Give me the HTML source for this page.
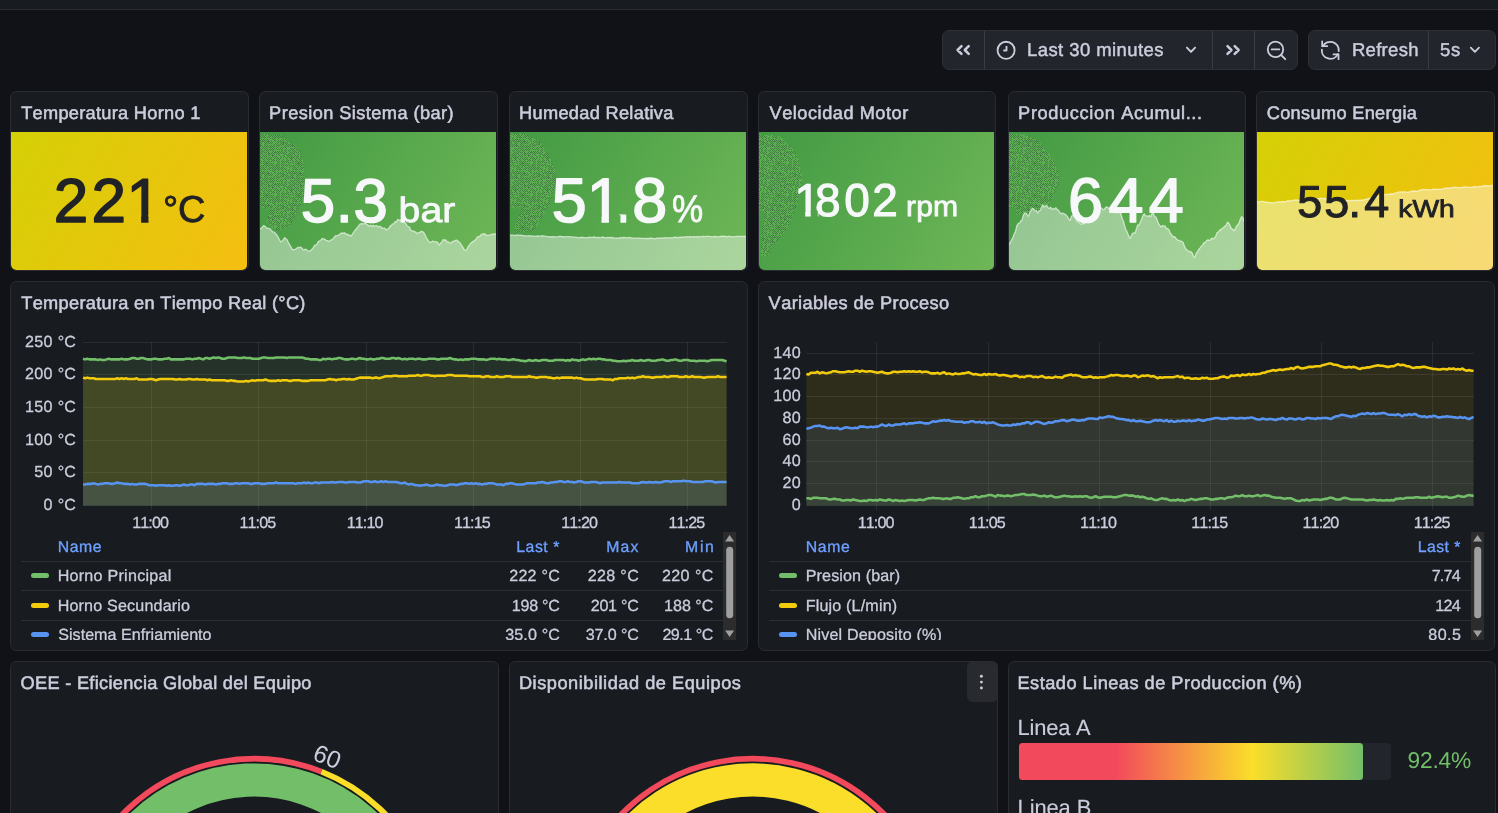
<!DOCTYPE html>
<html lang="es">
<head>
<meta charset="utf-8">
<title>Dashboard Planta - Grafana</title>
<style>
*{box-sizing:border-box;margin:0;padding:0}
html,body{width:1498px;height:813px;overflow:hidden;background:#111217}
body{position:relative;font-family:"Liberation Sans",sans-serif;color:rgb(204,204,220);font-kerning:none;text-rendering:geometricPrecision}
.topbar{position:absolute;left:0;top:0;width:1498px;height:10px;background:#181b1f;border-bottom:1px solid #2a2c31}
.t{position:absolute;white-space:nowrap;line-height:1}
.grp{position:absolute;top:30px;height:40px;background:#22252b;border:1px solid #2e3036;border-radius:7px;overflow:hidden}
.grp i{position:absolute;top:0;width:1px;height:38px;background:#3a3d41}
.grp svg{position:absolute;left:0;top:0}
.panel{position:absolute;background:#181b1f;border:1px solid #2a2c32;border-radius:6.5px;overflow:hidden}
.panel h2{font-weight:normal;font-size:inherit}
.panel svg{position:absolute;left:0;top:0;display:block}
svg text{font-family:"Liberation Sans",sans-serif;font-kerning:none;text-rendering:geometricPrecision}
.menu{position:absolute;background:#282a2f;border-radius:6px}
.menu svg{display:block}
</style>
</head>
<body>
<header class="topbar"></header>
<nav class="grp" style="left:942px;width:356px"><i style="left:41px"></i><i style="left:269px"></i><i style="left:311px"></i><svg width="354" height="38" viewBox="943 31 354 38" fill="none" stroke="rgb(204,204,220)" stroke-width="1.9" stroke-linecap="round" stroke-linejoin="round"><path d="M961.5 46.1 L957.6 50 L961.5 53.9 M968.7 46.1 L964.8 50 L968.7 53.9" stroke-width="2.5"/><circle cx="1006.1" cy="50.3" r="8.55" stroke-width="1.8"/><path d="M1006.5 45.9 V50.5 H1003.3" stroke-width="1.9" stroke-linecap="butt"/><path d="M1186.9 47.6 L1191 51.9 L1195.1 47.6" stroke-width="1.9"/><path d="M1227.5 46.1 L1231.4 50 L1227.5 53.9 M1234.7 46.1 L1238.6 50 L1234.7 53.9" stroke-width="2.5"/><circle cx="1275.5" cy="49.4" r="7.7" stroke-width="1.8"/><path d="M1281.1 55 L1285.3 59.2 M1271.7 49.4 H1279.3" stroke-width="1.8"/></svg><span class="t" style="left:83.98px;top:10px;font-size:18.5px;letter-spacing:0.43px;-webkit-text-stroke:0.45px currentColor;">Last 30 minutes</span></nav><nav class="grp" style="left:1308px;width:188px"><i style="left:119px"></i><svg width="186" height="38" viewBox="1309 31 186 38" fill="none" stroke="rgb(204,204,220)" stroke-width="1.8" stroke-linecap="round" stroke-linejoin="round"><path d="M1322.79 46.31 A8.5 8.5 0 0 1 1338.75 51.19"/><path d="M1337.87 54.16 A8.5 8.5 0 0 1 1321.82 49.71"/><path d="M1322.2 41.4 V46.2 H1327.2"/><path d="M1338.5 59.2 V54.4 H1333.5"/><path d="M1470.8 47.6 L1474.9 51.9 L1479 47.6" stroke-width="1.8"/></svg><span class="t" style="left:42.88px;top:10px;font-size:18.5px;letter-spacing:0.31px;-webkit-text-stroke:0.45px currentColor;">Refresh</span><span class="t" style="left:130.96px;top:10px;font-size:18.5px;letter-spacing:0.77px;-webkit-text-stroke:0.45px currentColor;">5s</span></nav><section class="panel" style="left:10px;top:91px;width:239px;height:180px"><h2><span class="t" style="left:10.19px;top:12px;font-size:18.2px;letter-spacing:0.29px;-webkit-text-stroke:0.55px currentColor;">Temperatura Horno 1</span></h2><div style="position:absolute;left:0px;top:40px;width:236.2px;height:138px;background:linear-gradient(120deg,rgb(213,208,6),rgb(245,190,17));border-radius:0 0 5px 5px;overflow:hidden"><svg width="236.2" height="138" viewBox="11 132 236.2 138"><clipPath id="c1"><path clip-rule="evenodd" d="M-6.02 147.57 H210.22 V253.01 H-6.02 Z M128.1 215.05 V224.49 H141.16 V215.05 Z M148.41 215.05 V224.49 H160.23 V215.05 Z"/></clipPath><text x="53.65 91.55 126.49" y="222" font-size="62.02" fill="#202226" stroke="#202226" stroke-width="1.49" stroke-linejoin="round" clip-path="url(#c1)">221</text><text transform="translate(165.2 222) scale(1.0109 1)" x="-2.23" y="0" font-size="37.47" fill="#202226" stroke="#202226" stroke-width="0.8">°C</text></svg></div></section><section class="panel" style="left:259px;top:91px;width:239px;height:180px"><h2><span class="t" style="left:9.11px;top:12px;font-size:18.2px;letter-spacing:0.43px;-webkit-text-stroke:0.55px currentColor;">Presion Sistema (bar)</span></h2><div style="position:absolute;left:0px;top:40px;width:236.2px;height:138px;background:linear-gradient(120deg,rgb(66,154,67),rgb(111,183,87));border-radius:0 0 5px 5px;overflow:hidden"><svg width="236.2" height="138" viewBox="260 132 236.2 138"><defs><pattern id="dth" width="32" height="32" patternUnits="userSpaceOnUse"><rect width="32" height="32" fill="#5bae4f"/><path d="M0 0h1v1h-1zM2 0h1v1h-1zM4 0h1v1h-1zM8 0h1v1h-1zM12 0h1v1h-1zM16 0h1v1h-1zM18 0h1v1h-1zM20 0h1v1h-1zM22 0h1v1h-1zM26 0h1v1h-1zM30 0h1v1h-1zM5 1h1v1h-1zM7 1h1v1h-1zM9 1h1v1h-1zM11 1h1v1h-1zM13 1h1v1h-1zM15 1h1v1h-1zM17 1h1v1h-1zM21 1h1v1h-1zM23 1h1v1h-1zM25 1h1v1h-1zM27 1h1v1h-1zM29 1h1v1h-1zM31 1h1v1h-1zM0 2h1v1h-1zM2 2h1v1h-1zM4 2h1v1h-1zM8 2h1v1h-1zM10 2h1v1h-1zM12 2h1v1h-1zM22 2h1v1h-1zM26 2h1v1h-1zM28 2h1v1h-1zM30 2h1v1h-1zM1 3h1v1h-1zM5 3h1v1h-1zM7 3h1v1h-1zM9 3h3v1h-3zM13 3h1v1h-1zM15 3h1v1h-1zM17 3h1v1h-1zM21 3h1v1h-1zM23 3h1v1h-1zM25 3h1v1h-1zM27 3h1v1h-1zM0 4h1v1h-1zM8 4h1v1h-1zM10 4h1v1h-1zM12 4h1v1h-1zM14 4h1v1h-1zM16 4h1v1h-1zM20 4h1v1h-1zM22 4h1v1h-1zM26 4h1v1h-1zM28 4h1v1h-1zM30 4h1v1h-1zM1 5h1v1h-1zM3 5h1v1h-1zM5 5h1v1h-1zM7 5h1v1h-1zM9 5h1v1h-1zM11 5h1v1h-1zM13 5h1v1h-1zM15 5h1v1h-1zM17 5h1v1h-1zM20 5h2v1h-2zM23 5h1v1h-1zM25 5h1v1h-1zM27 5h1v1h-1zM29 5h1v1h-1zM31 5h1v1h-1zM2 6h1v1h-1zM4 6h1v1h-1zM6 6h1v1h-1zM10 6h1v1h-1zM12 6h1v1h-1zM16 6h1v1h-1zM18 6h1v1h-1zM20 6h1v1h-1zM22 6h1v1h-1zM26 6h1v1h-1zM30 6h1v1h-1zM1 7h1v1h-1zM5 7h1v1h-1zM7 7h1v1h-1zM9 7h1v1h-1zM13 7h1v1h-1zM15 7h1v1h-1zM17 7h1v1h-1zM19 7h1v1h-1zM21 7h1v1h-1zM23 7h1v1h-1zM25 7h1v1h-1zM27 7h1v1h-1zM4 8h1v1h-1zM6 8h1v1h-1zM8 8h1v1h-1zM12 8h1v1h-1zM14 8h1v1h-1zM16 8h1v1h-1zM18 8h1v1h-1zM20 8h1v1h-1zM22 8h1v1h-1zM24 8h1v1h-1zM26 8h1v1h-1zM28 8h1v1h-1zM30 8h1v1h-1zM1 9h1v1h-1zM5 9h1v1h-1zM7 9h1v1h-1zM9 9h1v1h-1zM11 9h1v1h-1zM13 9h1v1h-1zM17 9h1v1h-1zM19 9h1v1h-1zM21 9h1v1h-1zM23 9h1v1h-1zM25 9h1v1h-1zM27 9h1v1h-1zM29 9h1v1h-1zM0 10h1v1h-1zM4 10h1v1h-1zM8 10h1v1h-1zM14 10h1v1h-1zM16 10h1v1h-1zM18 10h1v1h-1zM22 10h1v1h-1zM26 10h1v1h-1zM30 10h1v1h-1zM1 11h1v1h-1zM3 11h1v1h-1zM5 11h1v1h-1zM7 11h1v1h-1zM11 11h1v1h-1zM17 11h1v1h-1zM19 11h1v1h-1zM27 11h1v1h-1zM29 11h1v1h-1zM0 12h1v1h-1zM2 12h1v1h-1zM4 12h1v1h-1zM6 12h1v1h-1zM8 12h1v1h-1zM10 12h1v1h-1zM12 12h1v1h-1zM18 12h1v1h-1zM22 12h1v1h-1zM24 12h1v1h-1zM26 12h1v1h-1zM30 12h1v1h-1zM1 13h1v1h-1zM3 13h1v1h-1zM5 13h3v1h-3zM9 13h1v1h-1zM11 13h3v1h-3zM15 13h1v1h-1zM19 13h1v1h-1zM21 13h1v1h-1zM23 13h1v1h-1zM25 13h1v1h-1zM27 13h1v1h-1zM31 13h1v1h-1zM2 14h1v1h-1zM4 14h1v1h-1zM8 14h1v1h-1zM10 14h1v1h-1zM12 14h1v1h-1zM14 14h1v1h-1zM16 14h1v1h-1zM22 14h1v1h-1zM24 14h1v1h-1zM26 14h3v1h-3zM30 14h1v1h-1zM3 15h1v1h-1zM5 15h1v1h-1zM9 15h1v1h-1zM11 15h1v1h-1zM13 15h1v1h-1zM15 15h1v1h-1zM19 15h1v1h-1zM21 15h1v1h-1zM25 15h1v1h-1zM27 15h1v1h-1zM29 15h1v1h-1zM31 15h1v1h-1zM0 16h1v1h-1zM2 16h1v1h-1zM4 16h1v1h-1zM8 16h1v1h-1zM10 16h1v1h-1zM18 16h1v1h-1zM20 16h1v1h-1zM22 16h1v1h-1zM24 16h1v1h-1zM26 16h2v1h-2zM30 16h1v1h-1zM1 17h1v1h-1zM3 17h3v1h-3zM9 17h1v1h-1zM11 17h1v1h-1zM13 17h1v1h-1zM15 17h1v1h-1zM17 17h1v1h-1zM21 17h1v1h-1zM23 17h1v1h-1zM25 17h1v1h-1zM29 17h1v1h-1zM31 17h1v1h-1zM0 18h1v1h-1zM2 18h1v1h-1zM4 18h1v1h-1zM6 18h1v1h-1zM8 18h1v1h-1zM10 18h1v1h-1zM12 18h1v1h-1zM14 18h1v1h-1zM16 18h1v1h-1zM18 18h1v1h-1zM20 18h1v1h-1zM22 18h1v1h-1zM28 18h1v1h-1zM30 18h1v1h-1zM7 19h1v1h-1zM9 19h1v1h-1zM11 19h1v1h-1zM13 19h1v1h-1zM15 19h1v1h-1zM17 19h1v1h-1zM21 19h1v1h-1zM25 19h1v1h-1zM27 19h1v1h-1zM29 19h1v1h-1zM2 20h1v1h-1zM4 20h1v1h-1zM6 20h1v1h-1zM8 20h1v1h-1zM10 20h1v1h-1zM14 20h1v1h-1zM16 20h1v1h-1zM18 20h1v1h-1zM20 20h1v1h-1zM24 20h1v1h-1zM26 20h1v1h-1zM30 20h1v1h-1zM3 21h1v1h-1zM5 21h1v1h-1zM9 21h1v1h-1zM11 21h1v1h-1zM13 21h1v1h-1zM15 21h1v1h-1zM17 21h1v1h-1zM21 21h1v1h-1zM23 21h1v1h-1zM25 21h1v1h-1zM29 21h1v1h-1zM0 22h1v1h-1zM2 22h1v1h-1zM4 22h1v1h-1zM6 22h1v1h-1zM8 22h1v1h-1zM10 22h1v1h-1zM12 22h1v1h-1zM14 22h1v1h-1zM16 22h1v1h-1zM26 22h1v1h-1zM28 22h1v1h-1zM30 22h1v1h-1zM1 23h1v1h-1zM5 23h1v1h-1zM7 23h1v1h-1zM11 23h1v1h-1zM17 23h1v1h-1zM19 23h1v1h-1zM21 23h1v1h-1zM23 23h1v1h-1zM25 23h1v1h-1zM29 23h1v1h-1zM2 24h1v1h-1zM4 24h1v1h-1zM6 24h1v1h-1zM8 24h1v1h-1zM10 24h1v1h-1zM12 24h1v1h-1zM16 24h1v1h-1zM18 24h3v1h-3zM22 24h1v1h-1zM24 24h1v1h-1zM26 24h1v1h-1zM28 24h1v1h-1zM30 24h1v1h-1zM1 25h1v1h-1zM3 25h1v1h-1zM5 25h1v1h-1zM9 25h1v1h-1zM12 25h2v1h-2zM15 25h1v1h-1zM17 25h1v1h-1zM21 25h1v1h-1zM23 25h1v1h-1zM25 25h1v1h-1zM27 25h1v1h-1zM29 25h1v1h-1zM0 26h1v1h-1zM2 26h1v1h-1zM4 26h1v1h-1zM6 26h1v1h-1zM10 26h1v1h-1zM12 26h1v1h-1zM14 26h1v1h-1zM16 26h1v1h-1zM18 26h1v1h-1zM20 26h1v1h-1zM22 26h1v1h-1zM28 26h1v1h-1zM30 26h1v1h-1zM1 27h1v1h-1zM3 27h1v1h-1zM7 27h1v1h-1zM9 27h1v1h-1zM13 27h1v1h-1zM16 27h2v1h-2zM23 27h1v1h-1zM27 27h1v1h-1zM31 27h1v1h-1zM0 28h1v1h-1zM2 28h1v1h-1zM4 28h1v1h-1zM6 28h1v1h-1zM8 28h1v1h-1zM10 28h1v1h-1zM12 28h1v1h-1zM16 28h1v1h-1zM18 28h1v1h-1zM20 28h1v1h-1zM24 28h1v1h-1zM28 28h1v1h-1zM1 29h1v1h-1zM3 29h1v1h-1zM5 29h1v1h-1zM9 29h1v1h-1zM13 29h1v1h-1zM15 29h1v1h-1zM19 29h1v1h-1zM21 29h1v1h-1zM25 29h1v1h-1zM27 29h1v1h-1zM29 29h1v1h-1zM31 29h1v1h-1zM2 30h3v1h-3zM6 30h1v1h-1zM8 30h1v1h-1zM10 30h1v1h-1zM12 30h1v1h-1zM14 30h1v1h-1zM18 30h1v1h-1zM20 30h1v1h-1zM22 30h1v1h-1zM24 30h1v1h-1zM30 30h1v1h-1zM3 31h1v1h-1zM7 31h1v1h-1zM11 31h1v1h-1zM13 31h1v1h-1zM15 31h1v1h-1zM17 31h1v1h-1zM21 31h1v1h-1zM23 31h1v1h-1zM27 31h1v1h-1zM31 31h1v1h-1z" fill="#477d46"/></pattern><clipPath id="kd2"><path d="M260 227.28 L261.3 227.71 L262.6 225.72 L263.9 224.5 L265.2 225.52 L266.5 226.66 L267.8 227.44 L269.1 227.31 L270.4 228.2 L271.7 229.6 L273 230.93 L274.3 231.23 L275.6 232.59 L276.9 234.01 L278.2 236.28 L279.5 238.9 L280.8 240.98 L282.1 240.09 L283.4 238.49 L284.7 236.72 L286 237.69 L287.3 239.16 L288.6 241.93 L289.9 244.09 L291.2 246.38 L292.5 248.76 L293.8 248.55 L295.1 248.46 L296.4 247.57 L297.7 246.48 L299 246.49 L300.3 246 L301.6 246.74 L302.9 248.5 L304.2 248.85 L305.5 247.95 L306.8 249.19 L308.1 249.78 L309.4 250.05 L310.7 249.53 L312 248.1 L313.3 246.76 L314.6 244.36 L315.9 243.89 L317.2 243.09 L318.5 240.37 L319.8 239.73 L321.1 238.82 L322.4 237.48 L323.7 237.83 L325 238.14 L326.3 239.57 L327.6 239.6 L328.9 240.61 L330.2 239.17 L331.5 238.8 L332.8 238.16 L334.1 236.27 L335.4 234.94 L336.7 234.7 L338 234.44 L339.3 233.62 L340.6 232.41 L341.9 231.83 L343.2 232.3 L344.5 231.63 L345.8 233.29 L347.1 232.9 L348.4 234.36 L349.7 233.95 L351 234.99 L352.3 233.41 L353.6 231.33 L354.9 229.46 L356.2 228.01 L357.5 226.34 L358.8 224.57 L360.1 223.04 L361.4 222.5 L362.7 222.85 L364 222.76 L365.3 221.86 L366.6 223.29 L367.9 224.09 L369.2 225.18 L370.5 224.29 L371.8 225.26 L373.1 224.36 L374.4 225.33 L375.7 224.95 L377 224.68 L378.3 226.15 L379.6 225.24 L380.9 225.76 L382.2 227.37 L383.5 227.17 L384.8 227.22 L386.1 229.12 L387.4 228.16 L388.7 227.68 L390 225.36 L391.3 224.37 L392.6 222.93 L393.9 222.78 L395.2 220.62 L396.5 220.89 L397.8 218.31 L399.1 219.53 L400.4 218.94 L401.7 219.37 L403 221.19 L404.3 220.98 L405.6 221.99 L406.9 224.38 L408.2 225.65 L409.5 226.17 L410.8 229.32 L412.1 229.77 L413.4 230.09 L414.7 230.53 L416 231.53 L417.3 232.52 L418.6 231.65 L419.9 231.35 L421.2 230.34 L422.5 230.65 L423.8 231.51 L425.1 233.99 L426.4 236.68 L427.7 238.73 L429 240.99 L430.3 241.26 L431.6 240.8 L432.9 240.02 L434.2 240.69 L435.5 240.83 L436.8 240.85 L438.1 242.03 L439.4 244.12 L440.7 242.15 L442 240.66 L443.3 238.52 L444.6 239.06 L445.9 238.93 L447.2 241.06 L448.5 240.93 L449.8 241.94 L451.1 241.92 L452.4 240.39 L453.7 240.59 L455 239.53 L456.3 238.98 L457.6 239.75 L458.9 240.99 L460.2 242.04 L461.5 244.43 L462.8 246.03 L464.1 248.6 L465.4 249.44 L466.7 248.72 L468 245.94 L469.3 244.26 L470.6 242.26 L471.9 241.37 L473.2 240.39 L474.5 239.7 L475.8 238.55 L477.1 236.25 L478.4 235.56 L479.7 235.36 L481 233.86 L482.3 232.91 L483.6 233.1 L484.9 232.63 L486.2 234.29 L487.5 234.3 L488.8 234.14 L490.1 234.19 L491.4 233.62 L492.7 233.01 L494 233.14 L495.3 232.84 L496.2 233.32 L496.2 132 L260 132 Z"/></clipPath></defs><path d="M259.89 133.79 L281 135.41 L291.83 142.86 L298.6 148.94 L302.65 159.77 L304.01 170.6 L304.28 194.95 L301.3 203.07 L297.24 211.19 L290.48 224.72 L278.3 230.81 L271.53 227.43 L266.12 222.02 L268.83 213.9 L271.53 205.78 L266.12 209.84 L259.89 205.78 Z" fill="url(#dth)" shape-rendering="crispEdges" clip-path="url(#kd2)"/><path d="M260 228.28 L261.3 228.71 L262.6 226.72 L263.9 225.5 L265.2 226.52 L266.5 227.66 L267.8 228.44 L269.1 228.31 L270.4 229.2 L271.7 230.6 L273 231.93 L274.3 232.23 L275.6 233.59 L276.9 235.01 L278.2 237.28 L279.5 239.9 L280.8 241.98 L282.1 241.09 L283.4 239.49 L284.7 237.72 L286 238.69 L287.3 240.16 L288.6 242.93 L289.9 245.09 L291.2 247.38 L292.5 249.76 L293.8 249.55 L295.1 249.46 L296.4 248.57 L297.7 247.48 L299 247.49 L300.3 247 L301.6 247.74 L302.9 249.5 L304.2 249.85 L305.5 248.95 L306.8 250.19 L308.1 250.78 L309.4 251.05 L310.7 250.53 L312 249.1 L313.3 247.76 L314.6 245.36 L315.9 244.89 L317.2 244.09 L318.5 241.37 L319.8 240.73 L321.1 239.82 L322.4 238.48 L323.7 238.83 L325 239.14 L326.3 240.57 L327.6 240.6 L328.9 241.61 L330.2 240.17 L331.5 239.8 L332.8 239.16 L334.1 237.27 L335.4 235.94 L336.7 235.7 L338 235.44 L339.3 234.62 L340.6 233.41 L341.9 232.83 L343.2 233.3 L344.5 232.63 L345.8 234.29 L347.1 233.9 L348.4 235.36 L349.7 234.95 L351 235.99 L352.3 234.41 L353.6 232.33 L354.9 230.46 L356.2 229.01 L357.5 227.34 L358.8 225.57 L360.1 224.04 L361.4 223.5 L362.7 223.85 L364 223.76 L365.3 222.86 L366.6 224.29 L367.9 225.09 L369.2 226.18 L370.5 225.29 L371.8 226.26 L373.1 225.36 L374.4 226.33 L375.7 225.95 L377 225.68 L378.3 227.15 L379.6 226.24 L380.9 226.76 L382.2 228.37 L383.5 228.17 L384.8 228.22 L386.1 230.12 L387.4 229.16 L388.7 228.68 L390 226.36 L391.3 225.37 L392.6 223.93 L393.9 223.78 L395.2 221.62 L396.5 221.89 L397.8 219.31 L399.1 220.53 L400.4 219.94 L401.7 220.37 L403 222.19 L404.3 221.98 L405.6 222.99 L406.9 225.38 L408.2 226.65 L409.5 227.17 L410.8 230.32 L412.1 230.77 L413.4 231.09 L414.7 231.53 L416 232.53 L417.3 233.52 L418.6 232.65 L419.9 232.35 L421.2 231.34 L422.5 231.65 L423.8 232.51 L425.1 234.99 L426.4 237.68 L427.7 239.73 L429 241.99 L430.3 242.26 L431.6 241.8 L432.9 241.02 L434.2 241.69 L435.5 241.83 L436.8 241.85 L438.1 243.03 L439.4 245.12 L440.7 243.15 L442 241.66 L443.3 239.52 L444.6 240.06 L445.9 239.93 L447.2 242.06 L448.5 241.93 L449.8 242.94 L451.1 242.92 L452.4 241.39 L453.7 241.59 L455 240.53 L456.3 239.98 L457.6 240.75 L458.9 241.99 L460.2 243.04 L461.5 245.43 L462.8 247.03 L464.1 249.6 L465.4 250.44 L466.7 249.72 L468 246.94 L469.3 245.26 L470.6 243.26 L471.9 242.37 L473.2 241.39 L474.5 240.7 L475.8 239.55 L477.1 237.25 L478.4 236.56 L479.7 236.36 L481 234.86 L482.3 233.91 L483.6 234.1 L484.9 233.63 L486.2 235.29 L487.5 235.3 L488.8 235.14 L490.1 235.19 L491.4 234.62 L492.7 234.01 L494 234.14 L495.3 233.84 L496.2 234.32 L496.2 271 L260 271 Z" fill="rgba(255,255,255,0.42)"/><path d="M260 228.28 L261.3 228.71 L262.6 226.72 L263.9 225.5 L265.2 226.52 L266.5 227.66 L267.8 228.44 L269.1 228.31 L270.4 229.2 L271.7 230.6 L273 231.93 L274.3 232.23 L275.6 233.59 L276.9 235.01 L278.2 237.28 L279.5 239.9 L280.8 241.98 L282.1 241.09 L283.4 239.49 L284.7 237.72 L286 238.69 L287.3 240.16 L288.6 242.93 L289.9 245.09 L291.2 247.38 L292.5 249.76 L293.8 249.55 L295.1 249.46 L296.4 248.57 L297.7 247.48 L299 247.49 L300.3 247 L301.6 247.74 L302.9 249.5 L304.2 249.85 L305.5 248.95 L306.8 250.19 L308.1 250.78 L309.4 251.05 L310.7 250.53 L312 249.1 L313.3 247.76 L314.6 245.36 L315.9 244.89 L317.2 244.09 L318.5 241.37 L319.8 240.73 L321.1 239.82 L322.4 238.48 L323.7 238.83 L325 239.14 L326.3 240.57 L327.6 240.6 L328.9 241.61 L330.2 240.17 L331.5 239.8 L332.8 239.16 L334.1 237.27 L335.4 235.94 L336.7 235.7 L338 235.44 L339.3 234.62 L340.6 233.41 L341.9 232.83 L343.2 233.3 L344.5 232.63 L345.8 234.29 L347.1 233.9 L348.4 235.36 L349.7 234.95 L351 235.99 L352.3 234.41 L353.6 232.33 L354.9 230.46 L356.2 229.01 L357.5 227.34 L358.8 225.57 L360.1 224.04 L361.4 223.5 L362.7 223.85 L364 223.76 L365.3 222.86 L366.6 224.29 L367.9 225.09 L369.2 226.18 L370.5 225.29 L371.8 226.26 L373.1 225.36 L374.4 226.33 L375.7 225.95 L377 225.68 L378.3 227.15 L379.6 226.24 L380.9 226.76 L382.2 228.37 L383.5 228.17 L384.8 228.22 L386.1 230.12 L387.4 229.16 L388.7 228.68 L390 226.36 L391.3 225.37 L392.6 223.93 L393.9 223.78 L395.2 221.62 L396.5 221.89 L397.8 219.31 L399.1 220.53 L400.4 219.94 L401.7 220.37 L403 222.19 L404.3 221.98 L405.6 222.99 L406.9 225.38 L408.2 226.65 L409.5 227.17 L410.8 230.32 L412.1 230.77 L413.4 231.09 L414.7 231.53 L416 232.53 L417.3 233.52 L418.6 232.65 L419.9 232.35 L421.2 231.34 L422.5 231.65 L423.8 232.51 L425.1 234.99 L426.4 237.68 L427.7 239.73 L429 241.99 L430.3 242.26 L431.6 241.8 L432.9 241.02 L434.2 241.69 L435.5 241.83 L436.8 241.85 L438.1 243.03 L439.4 245.12 L440.7 243.15 L442 241.66 L443.3 239.52 L444.6 240.06 L445.9 239.93 L447.2 242.06 L448.5 241.93 L449.8 242.94 L451.1 242.92 L452.4 241.39 L453.7 241.59 L455 240.53 L456.3 239.98 L457.6 240.75 L458.9 241.99 L460.2 243.04 L461.5 245.43 L462.8 247.03 L464.1 249.6 L465.4 250.44 L466.7 249.72 L468 246.94 L469.3 245.26 L470.6 243.26 L471.9 242.37 L473.2 241.39 L474.5 240.7 L475.8 239.55 L477.1 237.25 L478.4 236.56 L479.7 236.36 L481 234.86 L482.3 233.91 L483.6 234.1 L484.9 233.63 L486.2 235.29 L487.5 235.3 L488.8 235.14 L490.1 235.19 L491.4 234.62 L492.7 234.01 L494 234.14 L495.3 233.84 L496.2 234.32" fill="none" stroke="rgba(255,255,255,0.6)" stroke-width="1.3" stroke-linejoin="round"/><text x="300.89 335.87 353.61" y="222" font-size="61.75" fill="#f7f8fa" stroke="#f7f8fa" stroke-width="1.48" stroke-linejoin="round">5.3</text><text transform="translate(401.1 222) scale(1.1161 1)" x="-2.26" y="0" font-size="35.14" fill="#f7f8fa" stroke="#f7f8fa" stroke-width="0.8">bar</text></svg></div></section><section class="panel" style="left:509px;top:91px;width:239px;height:180px"><h2><span class="t" style="left:9.11px;top:12px;font-size:18.2px;letter-spacing:0.31px;-webkit-text-stroke:0.55px currentColor;">Humedad Relativa</span></h2><div style="position:absolute;left:0px;top:40px;width:236.2px;height:138px;background:linear-gradient(120deg,rgb(66,154,67),rgb(111,183,87));border-radius:0 0 5px 5px;overflow:hidden"><svg width="236.2" height="138" viewBox="510 132 236.2 138"><defs><clipPath id="kd3"><path d="M510 234.02 L511.3 234.16 L512.6 234.14 L513.9 234.3 L515.2 234.43 L516.5 234.13 L517.8 233.93 L519.1 234.4 L520.4 234.29 L521.7 234.22 L523 234.73 L524.3 234.68 L525.6 234.92 L526.9 234.82 L528.2 234.9 L529.5 234.61 L530.8 234.8 L532.1 235.08 L533.4 235.03 L534.7 235.16 L536 235.21 L537.3 234.83 L538.6 235.1 L539.9 235.16 L541.2 235 L542.5 234.74 L543.8 235.18 L545.1 235.18 L546.4 235.37 L547.7 235.61 L549 235.65 L550.3 235.84 L551.6 235.59 L552.9 235.75 L554.2 235.6 L555.5 235.88 L556.8 236.01 L558.1 235.56 L559.4 235.33 L560.7 235.27 L562 235.76 L563.3 235.7 L564.6 235.8 L565.9 235.65 L567.2 235.71 L568.5 235.67 L569.8 235.63 L571.1 235.78 L572.4 235.89 L573.7 236.18 L575 236.21 L576.3 236.42 L577.6 236.5 L578.9 236.65 L580.2 236.53 L581.5 236.11 L582.8 236.36 L584.1 236.59 L585.4 236.7 L586.7 236.54 L588 236.55 L589.3 236.22 L590.6 236.47 L591.9 236.44 L593.2 236.24 L594.5 235.97 L595.8 236.37 L597.1 236.72 L598.4 236.31 L599.7 236.57 L601 236.46 L602.3 236.23 L603.6 236.2 L604.9 236.52 L606.2 236.8 L607.5 236.4 L608.8 236.57 L610.1 236.28 L611.4 236.59 L612.7 236.51 L614 236.86 L615.3 237.15 L616.6 237 L617.9 237.27 L619.2 236.95 L620.5 236.61 L621.8 236.78 L623.1 236.49 L624.4 236.44 L625.7 236.57 L627 236.8 L628.3 236.63 L629.6 236.45 L630.9 236.93 L632.2 236.84 L633.5 237.25 L634.8 237.46 L636.1 237.23 L637.4 237.16 L638.7 237.17 L640 237.27 L641.3 237.31 L642.6 237.31 L643.9 237.37 L645.2 237.63 L646.5 237.5 L647.8 237.37 L649.1 237.51 L650.4 237.26 L651.7 237.17 L653 237.6 L654.3 237.54 L655.6 237.54 L656.9 237.11 L658.2 237.09 L659.5 237.18 L660.8 236.81 L662.1 236.98 L663.4 237.07 L664.7 236.7 L666 236.85 L667.3 236.8 L668.6 236.9 L669.9 236.71 L671.2 236.81 L672.5 236.87 L673.8 236.38 L675.1 236.09 L676.4 236.33 L677.7 236.64 L679 236.31 L680.3 236.23 L681.6 236.25 L682.9 236.05 L684.2 235.93 L685.5 235.8 L686.8 235.76 L688.1 235.89 L689.4 235.76 L690.7 235.73 L692 235.98 L693.3 235.6 L694.6 235.74 L695.9 235.94 L697.2 235.75 L698.5 235.57 L699.8 235.86 L701.1 235.63 L702.4 235.44 L703.7 235.5 L705 235.71 L706.3 235.41 L707.6 235.38 L708.9 235.36 L710.2 235.69 L711.5 235.6 L712.8 235.84 L714.1 235.49 L715.4 235.39 L716.7 235.54 L718 235.79 L719.3 235.62 L720.6 235.36 L721.9 235.12 L723.2 235.28 L724.5 235.15 L725.8 235.5 L727.1 235.74 L728.4 235.43 L729.7 235.31 L731 235.62 L732.3 235.69 L733.6 235.85 L734.9 235.63 L736.2 235.35 L737.5 235.3 L738.8 235.62 L740.1 235.46 L741.4 235.41 L742.7 235.44 L744 235.46 L745.3 235.47 L746.2 235.63 L746.2 132 L510 132 Z"/></clipPath></defs><path d="M509.89 133.79 L525.59 134.06 L539.12 140.83 L548.6 154.36 L555.36 170.6 L555.36 184.13 L549.95 203.07 L541.83 217.96 L533.71 231.49 L516.12 232.84 L514.77 227.43 L518.83 216.6 L522.88 205.78 L513.41 208.48 L509.89 205.78 Z" fill="url(#dth)" shape-rendering="crispEdges" clip-path="url(#kd3)"/><path d="M510 235.02 L511.3 235.16 L512.6 235.14 L513.9 235.3 L515.2 235.43 L516.5 235.13 L517.8 234.93 L519.1 235.4 L520.4 235.29 L521.7 235.22 L523 235.73 L524.3 235.68 L525.6 235.92 L526.9 235.82 L528.2 235.9 L529.5 235.61 L530.8 235.8 L532.1 236.08 L533.4 236.03 L534.7 236.16 L536 236.21 L537.3 235.83 L538.6 236.1 L539.9 236.16 L541.2 236 L542.5 235.74 L543.8 236.18 L545.1 236.18 L546.4 236.37 L547.7 236.61 L549 236.65 L550.3 236.84 L551.6 236.59 L552.9 236.75 L554.2 236.6 L555.5 236.88 L556.8 237.01 L558.1 236.56 L559.4 236.33 L560.7 236.27 L562 236.76 L563.3 236.7 L564.6 236.8 L565.9 236.65 L567.2 236.71 L568.5 236.67 L569.8 236.63 L571.1 236.78 L572.4 236.89 L573.7 237.18 L575 237.21 L576.3 237.42 L577.6 237.5 L578.9 237.65 L580.2 237.53 L581.5 237.11 L582.8 237.36 L584.1 237.59 L585.4 237.7 L586.7 237.54 L588 237.55 L589.3 237.22 L590.6 237.47 L591.9 237.44 L593.2 237.24 L594.5 236.97 L595.8 237.37 L597.1 237.72 L598.4 237.31 L599.7 237.57 L601 237.46 L602.3 237.23 L603.6 237.2 L604.9 237.52 L606.2 237.8 L607.5 237.4 L608.8 237.57 L610.1 237.28 L611.4 237.59 L612.7 237.51 L614 237.86 L615.3 238.15 L616.6 238 L617.9 238.27 L619.2 237.95 L620.5 237.61 L621.8 237.78 L623.1 237.49 L624.4 237.44 L625.7 237.57 L627 237.8 L628.3 237.63 L629.6 237.45 L630.9 237.93 L632.2 237.84 L633.5 238.25 L634.8 238.46 L636.1 238.23 L637.4 238.16 L638.7 238.17 L640 238.27 L641.3 238.31 L642.6 238.31 L643.9 238.37 L645.2 238.63 L646.5 238.5 L647.8 238.37 L649.1 238.51 L650.4 238.26 L651.7 238.17 L653 238.6 L654.3 238.54 L655.6 238.54 L656.9 238.11 L658.2 238.09 L659.5 238.18 L660.8 237.81 L662.1 237.98 L663.4 238.07 L664.7 237.7 L666 237.85 L667.3 237.8 L668.6 237.9 L669.9 237.71 L671.2 237.81 L672.5 237.87 L673.8 237.38 L675.1 237.09 L676.4 237.33 L677.7 237.64 L679 237.31 L680.3 237.23 L681.6 237.25 L682.9 237.05 L684.2 236.93 L685.5 236.8 L686.8 236.76 L688.1 236.89 L689.4 236.76 L690.7 236.73 L692 236.98 L693.3 236.6 L694.6 236.74 L695.9 236.94 L697.2 236.75 L698.5 236.57 L699.8 236.86 L701.1 236.63 L702.4 236.44 L703.7 236.5 L705 236.71 L706.3 236.41 L707.6 236.38 L708.9 236.36 L710.2 236.69 L711.5 236.6 L712.8 236.84 L714.1 236.49 L715.4 236.39 L716.7 236.54 L718 236.79 L719.3 236.62 L720.6 236.36 L721.9 236.12 L723.2 236.28 L724.5 236.15 L725.8 236.5 L727.1 236.74 L728.4 236.43 L729.7 236.31 L731 236.62 L732.3 236.69 L733.6 236.85 L734.9 236.63 L736.2 236.35 L737.5 236.3 L738.8 236.62 L740.1 236.46 L741.4 236.41 L742.7 236.44 L744 236.46 L745.3 236.47 L746.2 236.63 L746.2 271 L510 271 Z" fill="rgba(255,255,255,0.42)"/><path d="M510 235.02 L511.3 235.16 L512.6 235.14 L513.9 235.3 L515.2 235.43 L516.5 235.13 L517.8 234.93 L519.1 235.4 L520.4 235.29 L521.7 235.22 L523 235.73 L524.3 235.68 L525.6 235.92 L526.9 235.82 L528.2 235.9 L529.5 235.61 L530.8 235.8 L532.1 236.08 L533.4 236.03 L534.7 236.16 L536 236.21 L537.3 235.83 L538.6 236.1 L539.9 236.16 L541.2 236 L542.5 235.74 L543.8 236.18 L545.1 236.18 L546.4 236.37 L547.7 236.61 L549 236.65 L550.3 236.84 L551.6 236.59 L552.9 236.75 L554.2 236.6 L555.5 236.88 L556.8 237.01 L558.1 236.56 L559.4 236.33 L560.7 236.27 L562 236.76 L563.3 236.7 L564.6 236.8 L565.9 236.65 L567.2 236.71 L568.5 236.67 L569.8 236.63 L571.1 236.78 L572.4 236.89 L573.7 237.18 L575 237.21 L576.3 237.42 L577.6 237.5 L578.9 237.65 L580.2 237.53 L581.5 237.11 L582.8 237.36 L584.1 237.59 L585.4 237.7 L586.7 237.54 L588 237.55 L589.3 237.22 L590.6 237.47 L591.9 237.44 L593.2 237.24 L594.5 236.97 L595.8 237.37 L597.1 237.72 L598.4 237.31 L599.7 237.57 L601 237.46 L602.3 237.23 L603.6 237.2 L604.9 237.52 L606.2 237.8 L607.5 237.4 L608.8 237.57 L610.1 237.28 L611.4 237.59 L612.7 237.51 L614 237.86 L615.3 238.15 L616.6 238 L617.9 238.27 L619.2 237.95 L620.5 237.61 L621.8 237.78 L623.1 237.49 L624.4 237.44 L625.7 237.57 L627 237.8 L628.3 237.63 L629.6 237.45 L630.9 237.93 L632.2 237.84 L633.5 238.25 L634.8 238.46 L636.1 238.23 L637.4 238.16 L638.7 238.17 L640 238.27 L641.3 238.31 L642.6 238.31 L643.9 238.37 L645.2 238.63 L646.5 238.5 L647.8 238.37 L649.1 238.51 L650.4 238.26 L651.7 238.17 L653 238.6 L654.3 238.54 L655.6 238.54 L656.9 238.11 L658.2 238.09 L659.5 238.18 L660.8 237.81 L662.1 237.98 L663.4 238.07 L664.7 237.7 L666 237.85 L667.3 237.8 L668.6 237.9 L669.9 237.71 L671.2 237.81 L672.5 237.87 L673.8 237.38 L675.1 237.09 L676.4 237.33 L677.7 237.64 L679 237.31 L680.3 237.23 L681.6 237.25 L682.9 237.05 L684.2 236.93 L685.5 236.8 L686.8 236.76 L688.1 236.89 L689.4 236.76 L690.7 236.73 L692 236.98 L693.3 236.6 L694.6 236.74 L695.9 236.94 L697.2 236.75 L698.5 236.57 L699.8 236.86 L701.1 236.63 L702.4 236.44 L703.7 236.5 L705 236.71 L706.3 236.41 L707.6 236.38 L708.9 236.36 L710.2 236.69 L711.5 236.6 L712.8 236.84 L714.1 236.49 L715.4 236.39 L716.7 236.54 L718 236.79 L719.3 236.62 L720.6 236.36 L721.9 236.12 L723.2 236.28 L724.5 236.15 L725.8 236.5 L727.1 236.74 L728.4 236.43 L729.7 236.31 L731 236.62 L732.3 236.69 L733.6 236.85 L734.9 236.63 L736.2 236.35 L737.5 236.3 L738.8 236.62 L740.1 236.46 L741.4 236.41 L742.7 236.44 L744 236.46 L745.3 236.47 L746.2 236.63" fill="none" stroke="rgba(255,255,255,0.6)" stroke-width="1.3" stroke-linejoin="round"/><clipPath id="c2"><path clip-rule="evenodd" d="M491.14 146.57 H728.66 V253.43 H491.14 Z M588.33 214.96 V224.51 H601.57 V214.96 Z M608.91 214.96 V224.51 H620.53 V214.96 Z"/></clipPath><text x="551.73 586.7 613.87 632.27" y="222" font-size="62.86" fill="#f7f8fa" stroke="#f7f8fa" stroke-width="1.51" stroke-linejoin="round" clip-path="url(#c2)">51.8</text><text transform="translate(673.3 222) scale(0.9133 1)" x="-1.37" y="0" font-size="38.42" fill="#f7f8fa" stroke="#f7f8fa" stroke-width="0.8">%</text></svg></div></section><section class="panel" style="left:758px;top:91px;width:238px;height:180px"><h2><span class="t" style="left:10.52px;top:12px;font-size:18.2px;letter-spacing:0.52px;-webkit-text-stroke:0.55px currentColor;">Velocidad Motor</span></h2><div style="position:absolute;left:0px;top:40px;width:235.2px;height:138px;background:linear-gradient(120deg,rgb(66,154,67),rgb(111,183,87));border-radius:0 0 5px 5px;overflow:hidden"><svg width="235.2" height="138" viewBox="759 132 235.2 138"><defs></defs><path d="M758.72 134.3 L779.38 136.02 L791.42 147.21 L798.31 157.54 L802.61 179.91 L797.45 202.29 L791.42 219.5 L782.82 234.99 L773.35 243.6 L767.33 257.37 L761.3 255.65 L761.3 233.27 L764.75 212.62 L758.72 210.9 Z" fill="url(#dth)" shape-rendering="crispEdges"/><clipPath id="c3"><path clip-rule="evenodd" d="M750.6 160.8 H942.4 V239 H750.6 Z M795.6 210.72 V218.1 H805.25 V210.72 Z M810.69 210.72 V218.1 H817.87 V210.72 Z"/></clipPath><text x="794.4 815.06 844.21 872.31" y="216" font-size="46" fill="#f7f8fa" stroke="#f7f8fa" stroke-width="1.1" stroke-linejoin="round" clip-path="url(#c3)">1802</text><text transform="translate(908.1 216) scale(1.0624 1)" x="-1.88" y="0" font-size="28.36" fill="#f7f8fa" stroke="#f7f8fa" stroke-width="0.8">rpm</text></svg></div></section><section class="panel" style="left:1008px;top:91px;width:238px;height:180px"><h2><span class="t" style="left:9.11px;top:12px;font-size:18.2px;letter-spacing:0.64px;-webkit-text-stroke:0.55px currentColor;">Produccion Acumul...</span></h2><div style="position:absolute;left:0px;top:40px;width:235.2px;height:138px;background:linear-gradient(120deg,rgb(66,154,67),rgb(111,183,87));border-radius:0 0 5px 5px;overflow:hidden"><svg width="235.2" height="138" viewBox="1009 132 235.2 138"><defs><clipPath id="kd5"><path d="M1009 243.59 L1010.3 241.42 L1011.6 238.81 L1012.9 236.51 L1014.2 233.06 L1015.5 230.38 L1016.8 224.87 L1018.1 222.62 L1019.4 222.25 L1020.7 220.08 L1022 218.9 L1023.3 214.37 L1024.6 212.17 L1025.9 211.95 L1027.2 213.83 L1028.5 215.34 L1029.8 211.54 L1031.1 209.25 L1032.4 207.33 L1033.7 207.82 L1035 209.9 L1036.3 209.43 L1037.6 212.09 L1038.9 210.18 L1040.2 209.43 L1041.5 206.49 L1042.8 203.77 L1044.1 206.13 L1045.4 204.97 L1046.7 204.23 L1048 206.63 L1049.3 207.59 L1050.6 206.15 L1051.9 208.04 L1053.2 207.67 L1054.5 208.08 L1055.8 206.63 L1057.1 208.67 L1058.4 209.04 L1059.7 211.21 L1061 212.9 L1062.3 212.17 L1063.6 212.5 L1064.9 213.03 L1066.2 214.32 L1067.5 215.65 L1068.8 218.22 L1070.1 219.25 L1071.4 215.2 L1072.7 214.29 L1074 214.74 L1075.3 216.1 L1076.6 219.49 L1077.9 220.9 L1079.2 221.76 L1080.5 222.91 L1081.8 223.35 L1083.1 220.94 L1084.4 222.77 L1085.7 220.05 L1087 220.97 L1088.3 221.67 L1089.6 217.97 L1090.9 217.17 L1092.2 214.19 L1093.5 212.29 L1094.8 208.08 L1096.1 204.78 L1097.4 204.37 L1098.7 207.04 L1100 205.67 L1101.3 206.88 L1102.6 208.19 L1103.9 208.93 L1105.2 207.02 L1106.5 205.82 L1107.8 206.29 L1109.1 207.93 L1110.4 206.64 L1111.7 208.56 L1113 210.15 L1114.3 211.61 L1115.6 209.61 L1116.9 212.13 L1118.2 210.65 L1119.5 210.98 L1120.8 212.46 L1122.1 217.21 L1123.4 219.92 L1124.7 225.32 L1126 228.68 L1127.3 231.37 L1128.6 234.56 L1129.9 237.51 L1131.2 234.94 L1132.5 232.37 L1133.8 231.96 L1135.1 231.98 L1136.4 227.91 L1137.7 223.99 L1139 224.05 L1140.3 221.32 L1141.6 218.16 L1142.9 214.59 L1144.2 212.76 L1145.5 214.69 L1146.8 214.95 L1148.1 215.33 L1149.4 214.51 L1150.7 215.89 L1152 212.59 L1153.3 212.04 L1154.6 215.63 L1155.9 215.88 L1157.2 219.09 L1158.5 222.62 L1159.8 224.31 L1161.1 226.05 L1162.4 224.54 L1163.7 225.2 L1165 224.84 L1166.3 227.59 L1167.6 227.5 L1168.9 228.63 L1170.2 231.82 L1171.5 233.6 L1172.8 235.58 L1174.1 235.6 L1175.4 236.35 L1176.7 238.31 L1178 239.13 L1179.3 239.44 L1180.6 240.31 L1181.9 240.3 L1183.2 241.62 L1184.5 245.18 L1185.8 247.86 L1187.1 249.11 L1188.4 250.04 L1189.7 250.67 L1191 250.77 L1192.3 252.2 L1193.6 255.68 L1194.9 256.43 L1196.2 252.48 L1197.5 250.58 L1198.8 248.37 L1200.1 246.82 L1201.4 245.16 L1202.7 243.9 L1204 241.61 L1205.3 241.46 L1206.6 239.5 L1207.9 238.84 L1209.2 239.26 L1210.5 238.96 L1211.8 237.01 L1213.1 238.05 L1214.4 237.02 L1215.7 235.39 L1217 231.73 L1218.3 231.05 L1219.6 229 L1220.9 228.85 L1222.2 227.14 L1223.5 226.79 L1224.8 225.29 L1226.1 224.32 L1227.4 221.37 L1228.7 221.79 L1230 224.51 L1231.3 227.36 L1232.6 228.11 L1233.9 229.75 L1235.2 228.01 L1236.5 225.3 L1237.8 223.78 L1239.1 221.81 L1240.4 217.98 L1241.7 215.68 L1243 217.09 L1244.2 220.48 L1244.2 132 L1009 132 Z"/></clipPath></defs><path d="M1008.89 133.79 L1024.59 134.06 L1039.48 142.18 L1051.65 157.06 L1059.1 174.65 L1059.1 184.13 L1053.01 197.66 L1047.6 207.13 L1024.59 213.9 L1016.47 215.25 L1016.47 208.48 L1008.89 207.13 Z" fill="url(#dth)" shape-rendering="crispEdges" clip-path="url(#kd5)"/><path d="M1009 244.59 L1010.3 242.42 L1011.6 239.81 L1012.9 237.51 L1014.2 234.06 L1015.5 231.38 L1016.8 225.87 L1018.1 223.62 L1019.4 223.25 L1020.7 221.08 L1022 219.9 L1023.3 215.37 L1024.6 213.17 L1025.9 212.95 L1027.2 214.83 L1028.5 216.34 L1029.8 212.54 L1031.1 210.25 L1032.4 208.33 L1033.7 208.82 L1035 210.9 L1036.3 210.43 L1037.6 213.09 L1038.9 211.18 L1040.2 210.43 L1041.5 207.49 L1042.8 204.77 L1044.1 207.13 L1045.4 205.97 L1046.7 205.23 L1048 207.63 L1049.3 208.59 L1050.6 207.15 L1051.9 209.04 L1053.2 208.67 L1054.5 209.08 L1055.8 207.63 L1057.1 209.67 L1058.4 210.04 L1059.7 212.21 L1061 213.9 L1062.3 213.17 L1063.6 213.5 L1064.9 214.03 L1066.2 215.32 L1067.5 216.65 L1068.8 219.22 L1070.1 220.25 L1071.4 216.2 L1072.7 215.29 L1074 215.74 L1075.3 217.1 L1076.6 220.49 L1077.9 221.9 L1079.2 222.76 L1080.5 223.91 L1081.8 224.35 L1083.1 221.94 L1084.4 223.77 L1085.7 221.05 L1087 221.97 L1088.3 222.67 L1089.6 218.97 L1090.9 218.17 L1092.2 215.19 L1093.5 213.29 L1094.8 209.08 L1096.1 205.78 L1097.4 205.37 L1098.7 208.04 L1100 206.67 L1101.3 207.88 L1102.6 209.19 L1103.9 209.93 L1105.2 208.02 L1106.5 206.82 L1107.8 207.29 L1109.1 208.93 L1110.4 207.64 L1111.7 209.56 L1113 211.15 L1114.3 212.61 L1115.6 210.61 L1116.9 213.13 L1118.2 211.65 L1119.5 211.98 L1120.8 213.46 L1122.1 218.21 L1123.4 220.92 L1124.7 226.32 L1126 229.68 L1127.3 232.37 L1128.6 235.56 L1129.9 238.51 L1131.2 235.94 L1132.5 233.37 L1133.8 232.96 L1135.1 232.98 L1136.4 228.91 L1137.7 224.99 L1139 225.05 L1140.3 222.32 L1141.6 219.16 L1142.9 215.59 L1144.2 213.76 L1145.5 215.69 L1146.8 215.95 L1148.1 216.33 L1149.4 215.51 L1150.7 216.89 L1152 213.59 L1153.3 213.04 L1154.6 216.63 L1155.9 216.88 L1157.2 220.09 L1158.5 223.62 L1159.8 225.31 L1161.1 227.05 L1162.4 225.54 L1163.7 226.2 L1165 225.84 L1166.3 228.59 L1167.6 228.5 L1168.9 229.63 L1170.2 232.82 L1171.5 234.6 L1172.8 236.58 L1174.1 236.6 L1175.4 237.35 L1176.7 239.31 L1178 240.13 L1179.3 240.44 L1180.6 241.31 L1181.9 241.3 L1183.2 242.62 L1184.5 246.18 L1185.8 248.86 L1187.1 250.11 L1188.4 251.04 L1189.7 251.67 L1191 251.77 L1192.3 253.2 L1193.6 256.68 L1194.9 257.43 L1196.2 253.48 L1197.5 251.58 L1198.8 249.37 L1200.1 247.82 L1201.4 246.16 L1202.7 244.9 L1204 242.61 L1205.3 242.46 L1206.6 240.5 L1207.9 239.84 L1209.2 240.26 L1210.5 239.96 L1211.8 238.01 L1213.1 239.05 L1214.4 238.02 L1215.7 236.39 L1217 232.73 L1218.3 232.05 L1219.6 230 L1220.9 229.85 L1222.2 228.14 L1223.5 227.79 L1224.8 226.29 L1226.1 225.32 L1227.4 222.37 L1228.7 222.79 L1230 225.51 L1231.3 228.36 L1232.6 229.11 L1233.9 230.75 L1235.2 229.01 L1236.5 226.3 L1237.8 224.78 L1239.1 222.81 L1240.4 218.98 L1241.7 216.68 L1243 218.09 L1244.2 221.48 L1244.2 271 L1009 271 Z" fill="rgba(255,255,255,0.42)"/><path d="M1009 244.59 L1010.3 242.42 L1011.6 239.81 L1012.9 237.51 L1014.2 234.06 L1015.5 231.38 L1016.8 225.87 L1018.1 223.62 L1019.4 223.25 L1020.7 221.08 L1022 219.9 L1023.3 215.37 L1024.6 213.17 L1025.9 212.95 L1027.2 214.83 L1028.5 216.34 L1029.8 212.54 L1031.1 210.25 L1032.4 208.33 L1033.7 208.82 L1035 210.9 L1036.3 210.43 L1037.6 213.09 L1038.9 211.18 L1040.2 210.43 L1041.5 207.49 L1042.8 204.77 L1044.1 207.13 L1045.4 205.97 L1046.7 205.23 L1048 207.63 L1049.3 208.59 L1050.6 207.15 L1051.9 209.04 L1053.2 208.67 L1054.5 209.08 L1055.8 207.63 L1057.1 209.67 L1058.4 210.04 L1059.7 212.21 L1061 213.9 L1062.3 213.17 L1063.6 213.5 L1064.9 214.03 L1066.2 215.32 L1067.5 216.65 L1068.8 219.22 L1070.1 220.25 L1071.4 216.2 L1072.7 215.29 L1074 215.74 L1075.3 217.1 L1076.6 220.49 L1077.9 221.9 L1079.2 222.76 L1080.5 223.91 L1081.8 224.35 L1083.1 221.94 L1084.4 223.77 L1085.7 221.05 L1087 221.97 L1088.3 222.67 L1089.6 218.97 L1090.9 218.17 L1092.2 215.19 L1093.5 213.29 L1094.8 209.08 L1096.1 205.78 L1097.4 205.37 L1098.7 208.04 L1100 206.67 L1101.3 207.88 L1102.6 209.19 L1103.9 209.93 L1105.2 208.02 L1106.5 206.82 L1107.8 207.29 L1109.1 208.93 L1110.4 207.64 L1111.7 209.56 L1113 211.15 L1114.3 212.61 L1115.6 210.61 L1116.9 213.13 L1118.2 211.65 L1119.5 211.98 L1120.8 213.46 L1122.1 218.21 L1123.4 220.92 L1124.7 226.32 L1126 229.68 L1127.3 232.37 L1128.6 235.56 L1129.9 238.51 L1131.2 235.94 L1132.5 233.37 L1133.8 232.96 L1135.1 232.98 L1136.4 228.91 L1137.7 224.99 L1139 225.05 L1140.3 222.32 L1141.6 219.16 L1142.9 215.59 L1144.2 213.76 L1145.5 215.69 L1146.8 215.95 L1148.1 216.33 L1149.4 215.51 L1150.7 216.89 L1152 213.59 L1153.3 213.04 L1154.6 216.63 L1155.9 216.88 L1157.2 220.09 L1158.5 223.62 L1159.8 225.31 L1161.1 227.05 L1162.4 225.54 L1163.7 226.2 L1165 225.84 L1166.3 228.59 L1167.6 228.5 L1168.9 229.63 L1170.2 232.82 L1171.5 234.6 L1172.8 236.58 L1174.1 236.6 L1175.4 237.35 L1176.7 239.31 L1178 240.13 L1179.3 240.44 L1180.6 241.31 L1181.9 241.3 L1183.2 242.62 L1184.5 246.18 L1185.8 248.86 L1187.1 250.11 L1188.4 251.04 L1189.7 251.67 L1191 251.77 L1192.3 253.2 L1193.6 256.68 L1194.9 257.43 L1196.2 253.48 L1197.5 251.58 L1198.8 249.37 L1200.1 247.82 L1201.4 246.16 L1202.7 244.9 L1204 242.61 L1205.3 242.46 L1206.6 240.5 L1207.9 239.84 L1209.2 240.26 L1210.5 239.96 L1211.8 238.01 L1213.1 239.05 L1214.4 238.02 L1215.7 236.39 L1217 232.73 L1218.3 232.05 L1219.6 230 L1220.9 229.85 L1222.2 228.14 L1223.5 227.79 L1224.8 226.29 L1226.1 225.32 L1227.4 222.37 L1228.7 222.79 L1230 225.51 L1231.3 228.36 L1232.6 229.11 L1233.9 230.75 L1235.2 229.01 L1236.5 226.3 L1237.8 224.78 L1239.1 222.81 L1240.4 218.98 L1241.7 216.68 L1243 218.09 L1244.2 221.48" fill="none" stroke="rgba(255,255,255,0.6)" stroke-width="1.3" stroke-linejoin="round"/><text x="1067.96 1108.47 1148.72" y="222" font-size="62.86" fill="#f7f8fa" stroke="#f7f8fa" stroke-width="1.51" stroke-linejoin="round">644</text></svg></div></section><section class="panel" style="left:1256px;top:91px;width:239px;height:180px"><h2><span class="t" style="left:9.68px;top:12px;font-size:18.2px;letter-spacing:0.33px;-webkit-text-stroke:0.55px currentColor;">Consumo Energia</span></h2><div style="position:absolute;left:0px;top:40px;width:236.2px;height:138px;background:linear-gradient(120deg,rgb(213,208,6),rgb(245,190,17));border-radius:0 0 5px 5px;overflow:hidden"><svg width="236.2" height="138" viewBox="1257 132 236.2 138"><path d="M1257 201.59 L1258.3 201.92 L1259.6 201.83 L1260.9 201.6 L1262.2 201.24 L1263.5 201.75 L1264.8 201.9 L1266.1 202.33 L1267.4 202.25 L1268.7 202.65 L1270 202.44 L1271.3 202.89 L1272.6 203.02 L1273.9 202.63 L1275.2 202.47 L1276.5 202.46 L1277.8 201.9 L1279.1 201.87 L1280.4 202.05 L1281.7 201.56 L1283 201.74 L1284.3 201.68 L1285.6 201.74 L1286.9 201.21 L1288.2 200.59 L1289.5 200.87 L1290.8 201.02 L1292.1 200.73 L1293.4 200.17 L1294.7 199.9 L1296 200.14 L1297.3 199.91 L1298.6 200.4 L1299.9 200.29 L1301.2 199.8 L1302.5 199.93 L1303.8 199.68 L1305.1 200.07 L1306.4 200.24 L1307.7 199.91 L1309 199.81 L1310.3 199.77 L1311.6 199.82 L1312.9 199.99 L1314.2 199.1 L1315.5 198.87 L1316.8 198.94 L1318.1 198.65 L1319.4 198.72 L1320.7 198.23 L1322 198.69 L1323.3 198.63 L1324.6 198.33 L1325.9 198.75 L1327.2 198.7 L1328.5 198.6 L1329.8 198.88 L1331.1 198.75 L1332.4 198.8 L1333.7 199.53 L1335 199.85 L1336.3 199.41 L1337.6 199.96 L1338.9 199.58 L1340.2 199.72 L1341.5 200.42 L1342.8 200.61 L1344.1 200.46 L1345.4 200.49 L1346.7 200.57 L1348 200.4 L1349.3 201.17 L1350.6 200.49 L1351.9 200.4 L1353.2 200.61 L1354.5 200.32 L1355.8 200.68 L1357.1 200.1 L1358.4 200.42 L1359.7 200.47 L1361 200.22 L1362.3 200.23 L1363.6 199.74 L1364.9 199.67 L1366.2 199.46 L1367.5 198.95 L1368.8 198.48 L1370.1 198.32 L1371.4 197.82 L1372.7 197.09 L1374 197.19 L1375.3 196.67 L1376.6 196.46 L1377.9 196.52 L1379.2 195.87 L1380.5 195.24 L1381.8 194.87 L1383.1 195.02 L1384.4 194.79 L1385.7 194.45 L1387 194.34 L1388.3 194.66 L1389.6 194.09 L1390.9 193.8 L1392.2 194.01 L1393.5 193.77 L1394.8 193.18 L1396.1 192.95 L1397.4 192.71 L1398.7 192.14 L1400 191.94 L1401.3 191.77 L1402.6 192.12 L1403.9 191.8 L1405.2 191.9 L1406.5 192.22 L1407.8 192.31 L1409.1 191.78 L1410.4 191.64 L1411.7 191.22 L1413 191 L1414.3 190.91 L1415.6 191.11 L1416.9 191.33 L1418.2 190.77 L1419.5 190.1 L1420.8 190.09 L1422.1 189.65 L1423.4 189.31 L1424.7 189.8 L1426 189.4 L1427.3 189.73 L1428.6 189.54 L1429.9 189.96 L1431.2 190.09 L1432.5 189.33 L1433.8 188.97 L1435.1 189.48 L1436.4 189.4 L1437.7 189.13 L1439 189.29 L1440.3 189.37 L1441.6 189.07 L1442.9 188.82 L1444.2 188.27 L1445.5 188.16 L1446.8 187.84 L1448.1 188.08 L1449.4 188.18 L1450.7 187.73 L1452 187.91 L1453.3 187.45 L1454.6 187.14 L1455.9 187.46 L1457.2 187.43 L1458.5 187.82 L1459.8 187.74 L1461.1 187.72 L1462.4 187.1 L1463.7 187.4 L1465 186.79 L1466.3 186.92 L1467.6 187.26 L1468.9 187.42 L1470.2 187.46 L1471.5 187.03 L1472.8 186.97 L1474.1 187.01 L1475.4 186.34 L1476.7 186.72 L1478 186.88 L1479.3 186.47 L1480.6 186.54 L1481.9 186.21 L1483.2 185.81 L1484.5 185.98 L1485.8 185.4 L1487.1 185.76 L1488.4 186.12 L1489.7 185.61 L1491 185.93 L1492.3 185.23 L1493.2 185.3 L1493.2 271 L1257 271 Z" fill="rgba(255,255,255,0.42)"/><path d="M1257 201.59 L1258.3 201.92 L1259.6 201.83 L1260.9 201.6 L1262.2 201.24 L1263.5 201.75 L1264.8 201.9 L1266.1 202.33 L1267.4 202.25 L1268.7 202.65 L1270 202.44 L1271.3 202.89 L1272.6 203.02 L1273.9 202.63 L1275.2 202.47 L1276.5 202.46 L1277.8 201.9 L1279.1 201.87 L1280.4 202.05 L1281.7 201.56 L1283 201.74 L1284.3 201.68 L1285.6 201.74 L1286.9 201.21 L1288.2 200.59 L1289.5 200.87 L1290.8 201.02 L1292.1 200.73 L1293.4 200.17 L1294.7 199.9 L1296 200.14 L1297.3 199.91 L1298.6 200.4 L1299.9 200.29 L1301.2 199.8 L1302.5 199.93 L1303.8 199.68 L1305.1 200.07 L1306.4 200.24 L1307.7 199.91 L1309 199.81 L1310.3 199.77 L1311.6 199.82 L1312.9 199.99 L1314.2 199.1 L1315.5 198.87 L1316.8 198.94 L1318.1 198.65 L1319.4 198.72 L1320.7 198.23 L1322 198.69 L1323.3 198.63 L1324.6 198.33 L1325.9 198.75 L1327.2 198.7 L1328.5 198.6 L1329.8 198.88 L1331.1 198.75 L1332.4 198.8 L1333.7 199.53 L1335 199.85 L1336.3 199.41 L1337.6 199.96 L1338.9 199.58 L1340.2 199.72 L1341.5 200.42 L1342.8 200.61 L1344.1 200.46 L1345.4 200.49 L1346.7 200.57 L1348 200.4 L1349.3 201.17 L1350.6 200.49 L1351.9 200.4 L1353.2 200.61 L1354.5 200.32 L1355.8 200.68 L1357.1 200.1 L1358.4 200.42 L1359.7 200.47 L1361 200.22 L1362.3 200.23 L1363.6 199.74 L1364.9 199.67 L1366.2 199.46 L1367.5 198.95 L1368.8 198.48 L1370.1 198.32 L1371.4 197.82 L1372.7 197.09 L1374 197.19 L1375.3 196.67 L1376.6 196.46 L1377.9 196.52 L1379.2 195.87 L1380.5 195.24 L1381.8 194.87 L1383.1 195.02 L1384.4 194.79 L1385.7 194.45 L1387 194.34 L1388.3 194.66 L1389.6 194.09 L1390.9 193.8 L1392.2 194.01 L1393.5 193.77 L1394.8 193.18 L1396.1 192.95 L1397.4 192.71 L1398.7 192.14 L1400 191.94 L1401.3 191.77 L1402.6 192.12 L1403.9 191.8 L1405.2 191.9 L1406.5 192.22 L1407.8 192.31 L1409.1 191.78 L1410.4 191.64 L1411.7 191.22 L1413 191 L1414.3 190.91 L1415.6 191.11 L1416.9 191.33 L1418.2 190.77 L1419.5 190.1 L1420.8 190.09 L1422.1 189.65 L1423.4 189.31 L1424.7 189.8 L1426 189.4 L1427.3 189.73 L1428.6 189.54 L1429.9 189.96 L1431.2 190.09 L1432.5 189.33 L1433.8 188.97 L1435.1 189.48 L1436.4 189.4 L1437.7 189.13 L1439 189.29 L1440.3 189.37 L1441.6 189.07 L1442.9 188.82 L1444.2 188.27 L1445.5 188.16 L1446.8 187.84 L1448.1 188.08 L1449.4 188.18 L1450.7 187.73 L1452 187.91 L1453.3 187.45 L1454.6 187.14 L1455.9 187.46 L1457.2 187.43 L1458.5 187.82 L1459.8 187.74 L1461.1 187.72 L1462.4 187.1 L1463.7 187.4 L1465 186.79 L1466.3 186.92 L1467.6 187.26 L1468.9 187.42 L1470.2 187.46 L1471.5 187.03 L1472.8 186.97 L1474.1 187.01 L1475.4 186.34 L1476.7 186.72 L1478 186.88 L1479.3 186.47 L1480.6 186.54 L1481.9 186.21 L1483.2 185.81 L1484.5 185.98 L1485.8 185.4 L1487.1 185.76 L1488.4 186.12 L1489.7 185.61 L1491 185.93 L1492.3 185.23 L1493.2 185.3" fill="none" stroke="rgba(255,255,255,0.6)" stroke-width="1.3" stroke-linejoin="round"/><text x="1297.22 1324.27 1348.62 1364.22" y="217" font-size="44.84" fill="#202226" stroke="#202226" stroke-width="1.06" stroke-linejoin="round">55.4</text><text transform="translate(1400.2 217) scale(1.1578 1)" x="-1.64" y="0" font-size="24.37" fill="#202226" stroke="#202226" stroke-width="0.8">kWh</text></svg></div></section><section class="panel" style="left:10px;top:281px;width:738px;height:370px"><h2><span class="t" style="left:10.29px;top:12px;font-size:18.2px;letter-spacing:0.3px;-webkit-text-stroke:0.55px currentColor;">Temperatura en Tiempo Real (°C)</span></h2><svg width="736" height="368" viewBox="11 282 736 368"><g stroke="rgba(220,225,240,0.09)" stroke-width="1" shape-rendering="crispEdges"><path d="M83 342.5 H726.6"/><path d="M83 374.5 H726.6"/><path d="M83 407.5 H726.6"/><path d="M83 440.5 H726.6"/><path d="M83 472.5 H726.6"/><path d="M83 505.5 H726.6"/><path d="M151.5 342.4 V510.4"/><path d="M258.5 342.4 V510.4"/><path d="M366.5 342.4 V510.4"/><path d="M473.5 342.4 V510.4"/><path d="M580.5 342.4 V510.4"/><path d="M687.5 342.4 V510.4"/></g><path d="M83 358.7 L85.15 359.35 L87.29 358.7 L89.44 359.35 L91.58 359.35 L93.73 359.35 L95.87 359.35 L98.02 360 L100.16 359.35 L102.31 360 L104.45 360 L106.6 359.35 L108.74 358.7 L110.89 359.35 L113.03 359.35 L115.18 359.35 L117.33 359.35 L119.47 359.35 L121.62 358.7 L123.76 359.35 L125.91 359.35 L128.05 359.35 L130.2 358.7 L132.34 358.05 L134.49 358.05 L136.63 358.7 L138.78 358.7 L140.92 358.05 L143.07 358.05 L145.21 358.7 L147.36 359.35 L149.51 359.35 L151.65 359.35 L153.8 358.7 L155.94 358.7 L158.09 359.35 L160.23 359.35 L162.38 359.35 L164.52 358.7 L166.67 358.7 L168.81 358.05 L170.96 359.35 L173.1 359.35 L175.25 359.35 L177.39 359.35 L179.54 359.35 L181.69 359.35 L183.83 359.35 L185.98 358.7 L188.12 358.7 L190.27 358.7 L192.41 359.35 L194.56 358.7 L196.7 358.7 L198.85 358.05 L200.99 358.7 L203.14 359.35 L205.28 358.05 L207.43 358.05 L209.57 358.7 L211.72 358.05 L213.87 357.4 L216.01 358.05 L218.16 357.4 L220.3 358.05 L222.45 358.7 L224.59 358.7 L226.74 358.05 L228.88 357.4 L231.03 357.4 L233.17 357.4 L235.32 357.4 L237.46 358.05 L239.61 358.05 L241.75 358.05 L243.9 357.4 L246.05 358.05 L248.19 358.05 L250.34 358.05 L252.48 358.7 L254.63 358.7 L256.77 358.7 L258.92 358.7 L261.06 358.05 L263.21 357.4 L265.35 357.4 L267.5 358.05 L269.64 358.05 L271.79 358.05 L273.93 358.05 L276.08 357.4 L278.23 357.4 L280.37 357.4 L282.52 357.4 L284.66 357.4 L286.81 358.05 L288.95 357.4 L291.1 357.4 L293.24 357.4 L295.39 357.4 L297.53 357.4 L299.68 357.4 L301.82 357.4 L303.97 358.05 L306.11 358.7 L308.26 358.7 L310.41 359.35 L312.55 359.35 L314.7 359.35 L316.84 359.35 L318.99 360 L321.13 360 L323.28 358.7 L325.42 359.35 L327.57 358.7 L329.71 358.7 L331.86 359.35 L334 358.7 L336.15 358.7 L338.29 358.05 L340.44 358.05 L342.59 358.7 L344.73 359.35 L346.88 359.35 L349.02 359.35 L351.17 358.7 L353.31 358.7 L355.46 359.35 L357.6 358.7 L359.75 358.05 L361.89 358.7 L364.04 358.7 L366.18 359.35 L368.33 359.35 L370.47 358.7 L372.62 359.35 L374.77 359.35 L376.91 358.7 L379.06 358.7 L381.2 358.05 L383.35 358.05 L385.49 358.7 L387.64 358.7 L389.78 358.7 L391.93 358.05 L394.07 358.05 L396.22 358.7 L398.36 358.05 L400.51 358.7 L402.65 359.35 L404.8 358.7 L406.95 359.35 L409.09 358.7 L411.24 358.7 L413.38 358.7 L415.53 359.35 L417.67 358.7 L419.82 358.7 L421.96 359.35 L424.11 359.35 L426.25 359.35 L428.4 358.7 L430.54 358.7 L432.69 358.7 L434.83 358.7 L436.98 359.35 L439.13 359.35 L441.27 358.7 L443.42 358.7 L445.56 358.7 L447.71 358.7 L449.85 358.05 L452 358.7 L454.14 359.35 L456.29 359.35 L458.43 360 L460.58 359.35 L462.72 360 L464.87 359.35 L467.01 359.35 L469.16 359.35 L471.31 358.7 L473.45 358.7 L475.6 358.7 L477.74 359.35 L479.89 359.35 L482.03 359.35 L484.18 359.35 L486.32 360 L488.47 359.35 L490.61 358.7 L492.76 358.7 L494.9 358.7 L497.05 359.35 L499.19 358.7 L501.34 359.35 L503.49 359.35 L505.63 359.35 L507.78 360 L509.92 360 L512.07 359.35 L514.21 359.35 L516.36 360 L518.5 360 L520.65 360.66 L522.79 360.66 L524.94 361.31 L527.08 360.66 L529.23 360 L531.37 360.66 L533.52 360.66 L535.67 360 L537.81 360.66 L539.96 360.66 L542.1 360 L544.25 360 L546.39 360 L548.54 360.66 L550.68 360.66 L552.83 360.66 L554.97 360 L557.12 360 L559.26 360 L561.41 360 L563.55 360 L565.7 360.66 L567.85 360 L569.99 360.66 L572.14 359.35 L574.28 360 L576.43 360 L578.57 360.66 L580.72 360 L582.86 359.35 L585.01 360 L587.15 359.35 L589.3 358.7 L591.44 359.35 L593.59 358.7 L595.73 359.35 L597.88 358.7 L600.03 358.7 L602.17 359.35 L604.32 359.35 L606.46 360 L608.61 360 L610.75 360 L612.9 360.66 L615.04 360.66 L617.19 361.31 L619.33 361.31 L621.48 361.31 L623.62 360.66 L625.77 361.31 L627.91 360.66 L630.06 360.66 L632.21 360 L634.35 360.66 L636.5 360.66 L638.64 360.66 L640.79 360 L642.93 360.66 L645.08 360.66 L647.22 360 L649.37 360 L651.51 360.66 L653.66 360.66 L655.8 360.66 L657.95 360 L660.09 360 L662.24 359.35 L664.39 360 L666.53 360.66 L668.68 360.66 L670.82 360 L672.97 360 L675.11 359.35 L677.26 360 L679.4 360.66 L681.55 360.66 L683.69 360 L685.84 360 L687.98 360 L690.13 360.66 L692.27 360.66 L694.42 360.66 L696.57 361.31 L698.71 360.66 L700.86 360.66 L703 360.66 L705.15 360.66 L707.29 361.31 L709.44 360.66 L711.58 360 L713.73 360 L715.87 360 L718.02 360 L720.16 360 L722.31 360 L724.45 360.66 L726.6 361.31 L726.6 505.4 L83 505.4 Z" fill="#73bf69" fill-opacity="0.15"/><path d="M83 377.61 L85.15 378.26 L87.29 377.61 L89.44 378.26 L91.58 378.26 L93.73 378.26 L95.87 378.91 L98.02 378.91 L100.16 378.91 L102.31 378.91 L104.45 378.91 L106.6 378.91 L108.74 378.91 L110.89 378.91 L113.03 378.91 L115.18 378.91 L117.33 378.26 L119.47 378.91 L121.62 378.26 L123.76 378.91 L125.91 378.26 L128.05 378.91 L130.2 378.91 L132.34 378.91 L134.49 378.91 L136.63 378.26 L138.78 379.56 L140.92 379.56 L143.07 379.56 L145.21 379.56 L147.36 379.56 L149.51 378.91 L151.65 378.91 L153.8 379.56 L155.94 380.22 L158.09 379.56 L160.23 378.91 L162.38 378.91 L164.52 378.91 L166.67 378.91 L168.81 378.91 L170.96 378.91 L173.1 378.91 L175.25 379.56 L177.39 379.56 L179.54 378.91 L181.69 379.56 L183.83 379.56 L185.98 379.56 L188.12 378.91 L190.27 378.91 L192.41 379.56 L194.56 379.56 L196.7 378.91 L198.85 379.56 L200.99 379.56 L203.14 379.56 L205.28 379.56 L207.43 380.22 L209.57 379.56 L211.72 380.22 L213.87 380.22 L216.01 380.22 L218.16 380.22 L220.3 380.22 L222.45 380.22 L224.59 380.22 L226.74 380.87 L228.88 380.87 L231.03 380.22 L233.17 380.87 L235.32 380.87 L237.46 381.52 L239.61 381.52 L241.75 381.52 L243.9 381.52 L246.05 380.87 L248.19 381.52 L250.34 380.87 L252.48 380.22 L254.63 380.87 L256.77 380.22 L258.92 380.22 L261.06 380.22 L263.21 380.22 L265.35 379.56 L267.5 380.22 L269.64 380.87 L271.79 380.87 L273.93 380.87 L276.08 380.87 L278.23 380.22 L280.37 380.87 L282.52 380.22 L284.66 380.22 L286.81 380.22 L288.95 380.87 L291.1 380.87 L293.24 380.22 L295.39 380.22 L297.53 380.22 L299.68 380.22 L301.82 380.87 L303.97 380.87 L306.11 380.87 L308.26 380.87 L310.41 380.22 L312.55 380.22 L314.7 380.22 L316.84 380.22 L318.99 380.22 L321.13 380.22 L323.28 380.22 L325.42 380.22 L327.57 379.56 L329.71 378.91 L331.86 379.56 L334 379.56 L336.15 380.22 L338.29 379.56 L340.44 379.56 L342.59 378.91 L344.73 378.91 L346.88 379.56 L349.02 378.91 L351.17 379.56 L353.31 379.56 L355.46 378.91 L357.6 378.26 L359.75 377.61 L361.89 377.61 L364.04 377.61 L366.18 377.61 L368.33 377.61 L370.47 377.61 L372.62 378.26 L374.77 377.61 L376.91 377.61 L379.06 378.26 L381.2 377.61 L383.35 376.96 L385.49 376.3 L387.64 376.3 L389.78 376.3 L391.93 376.3 L394.07 375.65 L396.22 375.65 L398.36 376.3 L400.51 376.3 L402.65 376.3 L404.8 376.3 L406.95 376.3 L409.09 375.65 L411.24 375.65 L413.38 375.65 L415.53 375.65 L417.67 375 L419.82 375.65 L421.96 375.65 L424.11 375 L426.25 375 L428.4 375 L430.54 375.65 L432.69 375.65 L434.83 376.3 L436.98 375.65 L439.13 375.65 L441.27 375.65 L443.42 375.65 L445.56 375.65 L447.71 375 L449.85 375 L452 375 L454.14 375.65 L456.29 375.65 L458.43 375.65 L460.58 375.65 L462.72 375.65 L464.87 375.65 L467.01 375.65 L469.16 376.3 L471.31 376.3 L473.45 376.3 L475.6 376.3 L477.74 376.3 L479.89 376.3 L482.03 376.96 L484.18 376.96 L486.32 376.3 L488.47 376.3 L490.61 376.96 L492.76 376.96 L494.9 376.96 L497.05 376.3 L499.19 376.96 L501.34 376.96 L503.49 376.96 L505.63 376.3 L507.78 376.3 L509.92 376.3 L512.07 376.96 L514.21 376.96 L516.36 376.96 L518.5 376.96 L520.65 376.96 L522.79 376.96 L524.94 376.96 L527.08 376.96 L529.23 376.3 L531.37 376.96 L533.52 376.96 L535.67 377.61 L537.81 377.61 L539.96 376.96 L542.1 376.96 L544.25 376.96 L546.39 376.96 L548.54 377.61 L550.68 377.61 L552.83 378.26 L554.97 378.26 L557.12 377.61 L559.26 378.26 L561.41 377.61 L563.55 377.61 L565.7 377.61 L567.85 377.61 L569.99 377.61 L572.14 377.61 L574.28 378.26 L576.43 377.61 L578.57 378.26 L580.72 378.26 L582.86 378.91 L585.01 379.56 L587.15 379.56 L589.3 379.56 L591.44 379.56 L593.59 379.56 L595.73 379.56 L597.88 378.91 L600.03 378.91 L602.17 378.91 L604.32 379.56 L606.46 379.56 L608.61 379.56 L610.75 379.56 L612.9 380.22 L615.04 378.91 L617.19 378.91 L619.33 378.26 L621.48 378.26 L623.62 378.26 L625.77 378.26 L627.91 377.61 L630.06 378.26 L632.21 377.61 L634.35 378.26 L636.5 377.61 L638.64 376.96 L640.79 376.96 L642.93 376.3 L645.08 376.96 L647.22 376.96 L649.37 376.96 L651.51 377.61 L653.66 377.61 L655.8 376.96 L657.95 376.96 L660.09 376.96 L662.24 376.96 L664.39 376.3 L666.53 376.96 L668.68 376.96 L670.82 376.3 L672.97 376.3 L675.11 376.3 L677.26 376.3 L679.4 376.96 L681.55 376.96 L683.69 376.96 L685.84 376.3 L687.98 376.96 L690.13 376.96 L692.27 376.3 L694.42 376.96 L696.57 376.96 L698.71 376.96 L700.86 376.96 L703 377.61 L705.15 377.61 L707.29 376.96 L709.44 376.96 L711.58 376.96 L713.73 376.96 L715.87 376.96 L718.02 376.3 L720.16 376.96 L722.31 376.96 L724.45 376.96 L726.6 376.96 L726.6 505.4 L83 505.4 Z" fill="#f2cc0c" fill-opacity="0.15"/><path d="M83 484.54 L85.15 484.54 L87.29 483.88 L89.44 483.88 L91.58 483.88 L93.73 483.23 L95.87 483.88 L98.02 484.54 L100.16 483.88 L102.31 483.88 L104.45 483.23 L106.6 483.23 L108.74 483.23 L110.89 483.88 L113.03 483.88 L115.18 483.23 L117.33 482.58 L119.47 483.23 L121.62 483.23 L123.76 483.88 L125.91 483.88 L128.05 483.88 L130.2 484.54 L132.34 483.88 L134.49 484.54 L136.63 484.54 L138.78 483.88 L140.92 483.88 L143.07 483.88 L145.21 483.88 L147.36 484.54 L149.51 485.19 L151.65 485.19 L153.8 485.19 L155.94 485.84 L158.09 485.19 L160.23 485.19 L162.38 485.19 L164.52 485.19 L166.67 485.84 L168.81 485.19 L170.96 485.84 L173.1 485.84 L175.25 485.19 L177.39 485.19 L179.54 485.84 L181.69 485.19 L183.83 484.54 L185.98 485.19 L188.12 485.19 L190.27 484.54 L192.41 484.54 L194.56 485.19 L196.7 483.88 L198.85 483.88 L200.99 483.88 L203.14 483.88 L205.28 484.54 L207.43 483.88 L209.57 483.88 L211.72 483.88 L213.87 483.88 L216.01 484.54 L218.16 483.88 L220.3 483.88 L222.45 483.23 L224.59 483.23 L226.74 483.23 L228.88 483.88 L231.03 483.88 L233.17 483.88 L235.32 483.23 L237.46 483.23 L239.61 483.88 L241.75 483.23 L243.9 483.23 L246.05 483.23 L248.19 483.23 L250.34 483.88 L252.48 483.88 L254.63 483.23 L256.77 483.23 L258.92 483.23 L261.06 483.88 L263.21 483.88 L265.35 483.88 L267.5 483.23 L269.64 483.23 L271.79 483.23 L273.93 483.23 L276.08 482.58 L278.23 483.23 L280.37 483.23 L282.52 483.23 L284.66 483.23 L286.81 483.23 L288.95 483.23 L291.1 483.23 L293.24 483.23 L295.39 483.88 L297.53 483.23 L299.68 483.23 L301.82 483.23 L303.97 482.58 L306.11 483.23 L308.26 482.58 L310.41 483.23 L312.55 483.23 L314.7 482.58 L316.84 482.58 L318.99 483.23 L321.13 482.58 L323.28 482.58 L325.42 482.58 L327.57 482.58 L329.71 482.58 L331.86 481.93 L334 482.58 L336.15 482.58 L338.29 481.93 L340.44 481.93 L342.59 481.93 L344.73 482.58 L346.88 482.58 L349.02 481.93 L351.17 481.93 L353.31 481.93 L355.46 481.93 L357.6 482.58 L359.75 482.58 L361.89 481.93 L364.04 481.28 L366.18 481.28 L368.33 481.28 L370.47 481.93 L372.62 481.93 L374.77 481.28 L376.91 481.93 L379.06 481.93 L381.2 481.28 L383.35 481.93 L385.49 481.28 L387.64 481.93 L389.78 481.93 L391.93 481.93 L394.07 481.93 L396.22 481.93 L398.36 482.58 L400.51 483.23 L402.65 483.23 L404.8 482.58 L406.95 483.88 L409.09 484.54 L411.24 483.88 L413.38 484.54 L415.53 485.19 L417.67 485.19 L419.82 485.84 L421.96 485.19 L424.11 485.19 L426.25 484.54 L428.4 485.19 L430.54 485.84 L432.69 485.84 L434.83 485.19 L436.98 484.54 L439.13 485.19 L441.27 485.19 L443.42 485.84 L445.56 485.84 L447.71 485.19 L449.85 484.54 L452 484.54 L454.14 484.54 L456.29 485.19 L458.43 484.54 L460.58 483.88 L462.72 483.88 L464.87 483.23 L467.01 483.23 L469.16 483.88 L471.31 483.23 L473.45 483.88 L475.6 483.23 L477.74 483.88 L479.89 483.88 L482.03 484.54 L484.18 483.88 L486.32 483.88 L488.47 483.23 L490.61 483.23 L492.76 483.23 L494.9 483.88 L497.05 484.54 L499.19 484.54 L501.34 484.54 L503.49 485.19 L505.63 483.88 L507.78 483.88 L509.92 483.23 L512.07 483.23 L514.21 483.88 L516.36 484.54 L518.5 484.54 L520.65 484.54 L522.79 484.54 L524.94 483.88 L527.08 483.23 L529.23 483.23 L531.37 483.23 L533.52 483.23 L535.67 483.23 L537.81 482.58 L539.96 482.58 L542.1 481.93 L544.25 482.58 L546.39 483.23 L548.54 483.23 L550.68 482.58 L552.83 482.58 L554.97 481.93 L557.12 481.93 L559.26 481.28 L561.41 481.28 L563.55 481.93 L565.7 481.93 L567.85 481.28 L569.99 481.93 L572.14 481.93 L574.28 482.58 L576.43 481.93 L578.57 481.28 L580.72 481.28 L582.86 481.93 L585.01 482.58 L587.15 482.58 L589.3 482.58 L591.44 481.93 L593.59 481.93 L595.73 481.93 L597.88 482.58 L600.03 483.23 L602.17 482.58 L604.32 482.58 L606.46 482.58 L608.61 482.58 L610.75 482.58 L612.9 482.58 L615.04 482.58 L617.19 482.58 L619.33 481.93 L621.48 482.58 L623.62 482.58 L625.77 482.58 L627.91 482.58 L630.06 482.58 L632.21 483.23 L634.35 483.23 L636.5 483.23 L638.64 483.23 L640.79 482.58 L642.93 481.93 L645.08 482.58 L647.22 482.58 L649.37 481.93 L651.51 482.58 L653.66 482.58 L655.8 481.93 L657.95 482.58 L660.09 482.58 L662.24 481.93 L664.39 481.28 L666.53 481.28 L668.68 481.28 L670.82 481.93 L672.97 481.28 L675.11 481.28 L677.26 481.28 L679.4 481.28 L681.55 481.28 L683.69 480.62 L685.84 481.28 L687.98 481.28 L690.13 481.28 L692.27 481.93 L694.42 481.93 L696.57 481.93 L698.71 481.93 L700.86 481.93 L703 481.93 L705.15 481.28 L707.29 481.28 L709.44 481.28 L711.58 481.28 L713.73 481.93 L715.87 482.58 L718.02 481.93 L720.16 481.93 L722.31 481.93 L724.45 481.93 L726.6 481.93 L726.6 505.4 L83 505.4 Z" fill="#5794f2" fill-opacity="0.15"/><path d="M83 358.7 L85.15 359.35 L87.29 358.7 L89.44 359.35 L91.58 359.35 L93.73 359.35 L95.87 359.35 L98.02 360 L100.16 359.35 L102.31 360 L104.45 360 L106.6 359.35 L108.74 358.7 L110.89 359.35 L113.03 359.35 L115.18 359.35 L117.33 359.35 L119.47 359.35 L121.62 358.7 L123.76 359.35 L125.91 359.35 L128.05 359.35 L130.2 358.7 L132.34 358.05 L134.49 358.05 L136.63 358.7 L138.78 358.7 L140.92 358.05 L143.07 358.05 L145.21 358.7 L147.36 359.35 L149.51 359.35 L151.65 359.35 L153.8 358.7 L155.94 358.7 L158.09 359.35 L160.23 359.35 L162.38 359.35 L164.52 358.7 L166.67 358.7 L168.81 358.05 L170.96 359.35 L173.1 359.35 L175.25 359.35 L177.39 359.35 L179.54 359.35 L181.69 359.35 L183.83 359.35 L185.98 358.7 L188.12 358.7 L190.27 358.7 L192.41 359.35 L194.56 358.7 L196.7 358.7 L198.85 358.05 L200.99 358.7 L203.14 359.35 L205.28 358.05 L207.43 358.05 L209.57 358.7 L211.72 358.05 L213.87 357.4 L216.01 358.05 L218.16 357.4 L220.3 358.05 L222.45 358.7 L224.59 358.7 L226.74 358.05 L228.88 357.4 L231.03 357.4 L233.17 357.4 L235.32 357.4 L237.46 358.05 L239.61 358.05 L241.75 358.05 L243.9 357.4 L246.05 358.05 L248.19 358.05 L250.34 358.05 L252.48 358.7 L254.63 358.7 L256.77 358.7 L258.92 358.7 L261.06 358.05 L263.21 357.4 L265.35 357.4 L267.5 358.05 L269.64 358.05 L271.79 358.05 L273.93 358.05 L276.08 357.4 L278.23 357.4 L280.37 357.4 L282.52 357.4 L284.66 357.4 L286.81 358.05 L288.95 357.4 L291.1 357.4 L293.24 357.4 L295.39 357.4 L297.53 357.4 L299.68 357.4 L301.82 357.4 L303.97 358.05 L306.11 358.7 L308.26 358.7 L310.41 359.35 L312.55 359.35 L314.7 359.35 L316.84 359.35 L318.99 360 L321.13 360 L323.28 358.7 L325.42 359.35 L327.57 358.7 L329.71 358.7 L331.86 359.35 L334 358.7 L336.15 358.7 L338.29 358.05 L340.44 358.05 L342.59 358.7 L344.73 359.35 L346.88 359.35 L349.02 359.35 L351.17 358.7 L353.31 358.7 L355.46 359.35 L357.6 358.7 L359.75 358.05 L361.89 358.7 L364.04 358.7 L366.18 359.35 L368.33 359.35 L370.47 358.7 L372.62 359.35 L374.77 359.35 L376.91 358.7 L379.06 358.7 L381.2 358.05 L383.35 358.05 L385.49 358.7 L387.64 358.7 L389.78 358.7 L391.93 358.05 L394.07 358.05 L396.22 358.7 L398.36 358.05 L400.51 358.7 L402.65 359.35 L404.8 358.7 L406.95 359.35 L409.09 358.7 L411.24 358.7 L413.38 358.7 L415.53 359.35 L417.67 358.7 L419.82 358.7 L421.96 359.35 L424.11 359.35 L426.25 359.35 L428.4 358.7 L430.54 358.7 L432.69 358.7 L434.83 358.7 L436.98 359.35 L439.13 359.35 L441.27 358.7 L443.42 358.7 L445.56 358.7 L447.71 358.7 L449.85 358.05 L452 358.7 L454.14 359.35 L456.29 359.35 L458.43 360 L460.58 359.35 L462.72 360 L464.87 359.35 L467.01 359.35 L469.16 359.35 L471.31 358.7 L473.45 358.7 L475.6 358.7 L477.74 359.35 L479.89 359.35 L482.03 359.35 L484.18 359.35 L486.32 360 L488.47 359.35 L490.61 358.7 L492.76 358.7 L494.9 358.7 L497.05 359.35 L499.19 358.7 L501.34 359.35 L503.49 359.35 L505.63 359.35 L507.78 360 L509.92 360 L512.07 359.35 L514.21 359.35 L516.36 360 L518.5 360 L520.65 360.66 L522.79 360.66 L524.94 361.31 L527.08 360.66 L529.23 360 L531.37 360.66 L533.52 360.66 L535.67 360 L537.81 360.66 L539.96 360.66 L542.1 360 L544.25 360 L546.39 360 L548.54 360.66 L550.68 360.66 L552.83 360.66 L554.97 360 L557.12 360 L559.26 360 L561.41 360 L563.55 360 L565.7 360.66 L567.85 360 L569.99 360.66 L572.14 359.35 L574.28 360 L576.43 360 L578.57 360.66 L580.72 360 L582.86 359.35 L585.01 360 L587.15 359.35 L589.3 358.7 L591.44 359.35 L593.59 358.7 L595.73 359.35 L597.88 358.7 L600.03 358.7 L602.17 359.35 L604.32 359.35 L606.46 360 L608.61 360 L610.75 360 L612.9 360.66 L615.04 360.66 L617.19 361.31 L619.33 361.31 L621.48 361.31 L623.62 360.66 L625.77 361.31 L627.91 360.66 L630.06 360.66 L632.21 360 L634.35 360.66 L636.5 360.66 L638.64 360.66 L640.79 360 L642.93 360.66 L645.08 360.66 L647.22 360 L649.37 360 L651.51 360.66 L653.66 360.66 L655.8 360.66 L657.95 360 L660.09 360 L662.24 359.35 L664.39 360 L666.53 360.66 L668.68 360.66 L670.82 360 L672.97 360 L675.11 359.35 L677.26 360 L679.4 360.66 L681.55 360.66 L683.69 360 L685.84 360 L687.98 360 L690.13 360.66 L692.27 360.66 L694.42 360.66 L696.57 361.31 L698.71 360.66 L700.86 360.66 L703 360.66 L705.15 360.66 L707.29 361.31 L709.44 360.66 L711.58 360 L713.73 360 L715.87 360 L718.02 360 L720.16 360 L722.31 360 L724.45 360.66 L726.6 361.31" fill="none" stroke="#73bf69" stroke-width="2.55" stroke-linejoin="round"/><path d="M83 377.61 L85.15 378.26 L87.29 377.61 L89.44 378.26 L91.58 378.26 L93.73 378.26 L95.87 378.91 L98.02 378.91 L100.16 378.91 L102.31 378.91 L104.45 378.91 L106.6 378.91 L108.74 378.91 L110.89 378.91 L113.03 378.91 L115.18 378.91 L117.33 378.26 L119.47 378.91 L121.62 378.26 L123.76 378.91 L125.91 378.26 L128.05 378.91 L130.2 378.91 L132.34 378.91 L134.49 378.91 L136.63 378.26 L138.78 379.56 L140.92 379.56 L143.07 379.56 L145.21 379.56 L147.36 379.56 L149.51 378.91 L151.65 378.91 L153.8 379.56 L155.94 380.22 L158.09 379.56 L160.23 378.91 L162.38 378.91 L164.52 378.91 L166.67 378.91 L168.81 378.91 L170.96 378.91 L173.1 378.91 L175.25 379.56 L177.39 379.56 L179.54 378.91 L181.69 379.56 L183.83 379.56 L185.98 379.56 L188.12 378.91 L190.27 378.91 L192.41 379.56 L194.56 379.56 L196.7 378.91 L198.85 379.56 L200.99 379.56 L203.14 379.56 L205.28 379.56 L207.43 380.22 L209.57 379.56 L211.72 380.22 L213.87 380.22 L216.01 380.22 L218.16 380.22 L220.3 380.22 L222.45 380.22 L224.59 380.22 L226.74 380.87 L228.88 380.87 L231.03 380.22 L233.17 380.87 L235.32 380.87 L237.46 381.52 L239.61 381.52 L241.75 381.52 L243.9 381.52 L246.05 380.87 L248.19 381.52 L250.34 380.87 L252.48 380.22 L254.63 380.87 L256.77 380.22 L258.92 380.22 L261.06 380.22 L263.21 380.22 L265.35 379.56 L267.5 380.22 L269.64 380.87 L271.79 380.87 L273.93 380.87 L276.08 380.87 L278.23 380.22 L280.37 380.87 L282.52 380.22 L284.66 380.22 L286.81 380.22 L288.95 380.87 L291.1 380.87 L293.24 380.22 L295.39 380.22 L297.53 380.22 L299.68 380.22 L301.82 380.87 L303.97 380.87 L306.11 380.87 L308.26 380.87 L310.41 380.22 L312.55 380.22 L314.7 380.22 L316.84 380.22 L318.99 380.22 L321.13 380.22 L323.28 380.22 L325.42 380.22 L327.57 379.56 L329.71 378.91 L331.86 379.56 L334 379.56 L336.15 380.22 L338.29 379.56 L340.44 379.56 L342.59 378.91 L344.73 378.91 L346.88 379.56 L349.02 378.91 L351.17 379.56 L353.31 379.56 L355.46 378.91 L357.6 378.26 L359.75 377.61 L361.89 377.61 L364.04 377.61 L366.18 377.61 L368.33 377.61 L370.47 377.61 L372.62 378.26 L374.77 377.61 L376.91 377.61 L379.06 378.26 L381.2 377.61 L383.35 376.96 L385.49 376.3 L387.64 376.3 L389.78 376.3 L391.93 376.3 L394.07 375.65 L396.22 375.65 L398.36 376.3 L400.51 376.3 L402.65 376.3 L404.8 376.3 L406.95 376.3 L409.09 375.65 L411.24 375.65 L413.38 375.65 L415.53 375.65 L417.67 375 L419.82 375.65 L421.96 375.65 L424.11 375 L426.25 375 L428.4 375 L430.54 375.65 L432.69 375.65 L434.83 376.3 L436.98 375.65 L439.13 375.65 L441.27 375.65 L443.42 375.65 L445.56 375.65 L447.71 375 L449.85 375 L452 375 L454.14 375.65 L456.29 375.65 L458.43 375.65 L460.58 375.65 L462.72 375.65 L464.87 375.65 L467.01 375.65 L469.16 376.3 L471.31 376.3 L473.45 376.3 L475.6 376.3 L477.74 376.3 L479.89 376.3 L482.03 376.96 L484.18 376.96 L486.32 376.3 L488.47 376.3 L490.61 376.96 L492.76 376.96 L494.9 376.96 L497.05 376.3 L499.19 376.96 L501.34 376.96 L503.49 376.96 L505.63 376.3 L507.78 376.3 L509.92 376.3 L512.07 376.96 L514.21 376.96 L516.36 376.96 L518.5 376.96 L520.65 376.96 L522.79 376.96 L524.94 376.96 L527.08 376.96 L529.23 376.3 L531.37 376.96 L533.52 376.96 L535.67 377.61 L537.81 377.61 L539.96 376.96 L542.1 376.96 L544.25 376.96 L546.39 376.96 L548.54 377.61 L550.68 377.61 L552.83 378.26 L554.97 378.26 L557.12 377.61 L559.26 378.26 L561.41 377.61 L563.55 377.61 L565.7 377.61 L567.85 377.61 L569.99 377.61 L572.14 377.61 L574.28 378.26 L576.43 377.61 L578.57 378.26 L580.72 378.26 L582.86 378.91 L585.01 379.56 L587.15 379.56 L589.3 379.56 L591.44 379.56 L593.59 379.56 L595.73 379.56 L597.88 378.91 L600.03 378.91 L602.17 378.91 L604.32 379.56 L606.46 379.56 L608.61 379.56 L610.75 379.56 L612.9 380.22 L615.04 378.91 L617.19 378.91 L619.33 378.26 L621.48 378.26 L623.62 378.26 L625.77 378.26 L627.91 377.61 L630.06 378.26 L632.21 377.61 L634.35 378.26 L636.5 377.61 L638.64 376.96 L640.79 376.96 L642.93 376.3 L645.08 376.96 L647.22 376.96 L649.37 376.96 L651.51 377.61 L653.66 377.61 L655.8 376.96 L657.95 376.96 L660.09 376.96 L662.24 376.96 L664.39 376.3 L666.53 376.96 L668.68 376.96 L670.82 376.3 L672.97 376.3 L675.11 376.3 L677.26 376.3 L679.4 376.96 L681.55 376.96 L683.69 376.96 L685.84 376.3 L687.98 376.96 L690.13 376.96 L692.27 376.3 L694.42 376.96 L696.57 376.96 L698.71 376.96 L700.86 376.96 L703 377.61 L705.15 377.61 L707.29 376.96 L709.44 376.96 L711.58 376.96 L713.73 376.96 L715.87 376.96 L718.02 376.3 L720.16 376.96 L722.31 376.96 L724.45 376.96 L726.6 376.96" fill="none" stroke="#f2cc0c" stroke-width="2.55" stroke-linejoin="round"/><path d="M83 484.54 L85.15 484.54 L87.29 483.88 L89.44 483.88 L91.58 483.88 L93.73 483.23 L95.87 483.88 L98.02 484.54 L100.16 483.88 L102.31 483.88 L104.45 483.23 L106.6 483.23 L108.74 483.23 L110.89 483.88 L113.03 483.88 L115.18 483.23 L117.33 482.58 L119.47 483.23 L121.62 483.23 L123.76 483.88 L125.91 483.88 L128.05 483.88 L130.2 484.54 L132.34 483.88 L134.49 484.54 L136.63 484.54 L138.78 483.88 L140.92 483.88 L143.07 483.88 L145.21 483.88 L147.36 484.54 L149.51 485.19 L151.65 485.19 L153.8 485.19 L155.94 485.84 L158.09 485.19 L160.23 485.19 L162.38 485.19 L164.52 485.19 L166.67 485.84 L168.81 485.19 L170.96 485.84 L173.1 485.84 L175.25 485.19 L177.39 485.19 L179.54 485.84 L181.69 485.19 L183.83 484.54 L185.98 485.19 L188.12 485.19 L190.27 484.54 L192.41 484.54 L194.56 485.19 L196.7 483.88 L198.85 483.88 L200.99 483.88 L203.14 483.88 L205.28 484.54 L207.43 483.88 L209.57 483.88 L211.72 483.88 L213.87 483.88 L216.01 484.54 L218.16 483.88 L220.3 483.88 L222.45 483.23 L224.59 483.23 L226.74 483.23 L228.88 483.88 L231.03 483.88 L233.17 483.88 L235.32 483.23 L237.46 483.23 L239.61 483.88 L241.75 483.23 L243.9 483.23 L246.05 483.23 L248.19 483.23 L250.34 483.88 L252.48 483.88 L254.63 483.23 L256.77 483.23 L258.92 483.23 L261.06 483.88 L263.21 483.88 L265.35 483.88 L267.5 483.23 L269.64 483.23 L271.79 483.23 L273.93 483.23 L276.08 482.58 L278.23 483.23 L280.37 483.23 L282.52 483.23 L284.66 483.23 L286.81 483.23 L288.95 483.23 L291.1 483.23 L293.24 483.23 L295.39 483.88 L297.53 483.23 L299.68 483.23 L301.82 483.23 L303.97 482.58 L306.11 483.23 L308.26 482.58 L310.41 483.23 L312.55 483.23 L314.7 482.58 L316.84 482.58 L318.99 483.23 L321.13 482.58 L323.28 482.58 L325.42 482.58 L327.57 482.58 L329.71 482.58 L331.86 481.93 L334 482.58 L336.15 482.58 L338.29 481.93 L340.44 481.93 L342.59 481.93 L344.73 482.58 L346.88 482.58 L349.02 481.93 L351.17 481.93 L353.31 481.93 L355.46 481.93 L357.6 482.58 L359.75 482.58 L361.89 481.93 L364.04 481.28 L366.18 481.28 L368.33 481.28 L370.47 481.93 L372.62 481.93 L374.77 481.28 L376.91 481.93 L379.06 481.93 L381.2 481.28 L383.35 481.93 L385.49 481.28 L387.64 481.93 L389.78 481.93 L391.93 481.93 L394.07 481.93 L396.22 481.93 L398.36 482.58 L400.51 483.23 L402.65 483.23 L404.8 482.58 L406.95 483.88 L409.09 484.54 L411.24 483.88 L413.38 484.54 L415.53 485.19 L417.67 485.19 L419.82 485.84 L421.96 485.19 L424.11 485.19 L426.25 484.54 L428.4 485.19 L430.54 485.84 L432.69 485.84 L434.83 485.19 L436.98 484.54 L439.13 485.19 L441.27 485.19 L443.42 485.84 L445.56 485.84 L447.71 485.19 L449.85 484.54 L452 484.54 L454.14 484.54 L456.29 485.19 L458.43 484.54 L460.58 483.88 L462.72 483.88 L464.87 483.23 L467.01 483.23 L469.16 483.88 L471.31 483.23 L473.45 483.88 L475.6 483.23 L477.74 483.88 L479.89 483.88 L482.03 484.54 L484.18 483.88 L486.32 483.88 L488.47 483.23 L490.61 483.23 L492.76 483.23 L494.9 483.88 L497.05 484.54 L499.19 484.54 L501.34 484.54 L503.49 485.19 L505.63 483.88 L507.78 483.88 L509.92 483.23 L512.07 483.23 L514.21 483.88 L516.36 484.54 L518.5 484.54 L520.65 484.54 L522.79 484.54 L524.94 483.88 L527.08 483.23 L529.23 483.23 L531.37 483.23 L533.52 483.23 L535.67 483.23 L537.81 482.58 L539.96 482.58 L542.1 481.93 L544.25 482.58 L546.39 483.23 L548.54 483.23 L550.68 482.58 L552.83 482.58 L554.97 481.93 L557.12 481.93 L559.26 481.28 L561.41 481.28 L563.55 481.93 L565.7 481.93 L567.85 481.28 L569.99 481.93 L572.14 481.93 L574.28 482.58 L576.43 481.93 L578.57 481.28 L580.72 481.28 L582.86 481.93 L585.01 482.58 L587.15 482.58 L589.3 482.58 L591.44 481.93 L593.59 481.93 L595.73 481.93 L597.88 482.58 L600.03 483.23 L602.17 482.58 L604.32 482.58 L606.46 482.58 L608.61 482.58 L610.75 482.58 L612.9 482.58 L615.04 482.58 L617.19 482.58 L619.33 481.93 L621.48 482.58 L623.62 482.58 L625.77 482.58 L627.91 482.58 L630.06 482.58 L632.21 483.23 L634.35 483.23 L636.5 483.23 L638.64 483.23 L640.79 482.58 L642.93 481.93 L645.08 482.58 L647.22 482.58 L649.37 481.93 L651.51 482.58 L653.66 482.58 L655.8 481.93 L657.95 482.58 L660.09 482.58 L662.24 481.93 L664.39 481.28 L666.53 481.28 L668.68 481.28 L670.82 481.93 L672.97 481.28 L675.11 481.28 L677.26 481.28 L679.4 481.28 L681.55 481.28 L683.69 480.62 L685.84 481.28 L687.98 481.28 L690.13 481.28 L692.27 481.93 L694.42 481.93 L696.57 481.93 L698.71 481.93 L700.86 481.93 L703 481.93 L705.15 481.28 L707.29 481.28 L709.44 481.28 L711.58 481.28 L713.73 481.93 L715.87 482.58 L718.02 481.93 L720.16 481.93 L722.31 481.93 L724.45 481.93 L726.6 481.93" fill="none" stroke="#5794f2" stroke-width="2.55" stroke-linejoin="round"/><g fill="rgb(204,204,220)"><text x="25.11" y="347" font-size="16.1" letter-spacing="0.3" fill="rgb(204,204,220)" stroke="rgb(204,204,220)" stroke-width="0.3">250 °C</text><text x="25.11" y="379" font-size="16.1" letter-spacing="0.3" fill="rgb(204,204,220)" stroke="rgb(204,204,220)" stroke-width="0.3">200 °C</text><text x="25.11" y="412" font-size="16.1" letter-spacing="0.3" fill="rgb(204,204,220)" stroke="rgb(204,204,220)" stroke-width="0.3">150 °C</text><text x="25.11" y="445" font-size="16.1" letter-spacing="0.3" fill="rgb(204,204,220)" stroke="rgb(204,204,220)" stroke-width="0.3">100 °C</text><text x="34.37" y="477" font-size="16.1" letter-spacing="0.3" fill="rgb(204,204,220)" stroke="rgb(204,204,220)" stroke-width="0.3">50 °C</text><text x="43.62" y="510" font-size="16.1" letter-spacing="0.3" fill="rgb(204,204,220)" stroke="rgb(204,204,220)" stroke-width="0.3">0 °C</text><text x="132.17" y="528" font-size="16.1" letter-spacing="-0.86" fill="rgb(204,204,220)" stroke="rgb(204,204,220)" stroke-width="0.3">11:00</text><text x="239.42" y="528" font-size="16.1" letter-spacing="-0.85" fill="rgb(204,204,220)" stroke="rgb(204,204,220)" stroke-width="0.3">11:05</text><text x="346.67" y="528" font-size="16.1" letter-spacing="-0.86" fill="rgb(204,204,220)" stroke="rgb(204,204,220)" stroke-width="0.3">11:10</text><text x="453.92" y="528" font-size="16.1" letter-spacing="-0.85" fill="rgb(204,204,220)" stroke="rgb(204,204,220)" stroke-width="0.3">11:15</text><text x="561.17" y="528" font-size="16.1" letter-spacing="-0.86" fill="rgb(204,204,220)" stroke="rgb(204,204,220)" stroke-width="0.3">11:20</text><text x="668.42" y="528" font-size="16.1" letter-spacing="-0.85" fill="rgb(204,204,220)" stroke="rgb(204,204,220)" stroke-width="0.3">11:25</text></g></svg><div style="position:absolute;left:10px;top:250px;width:714.7px;height:108px;overflow:hidden"><span class="t" style="left:36.66px;top:8px;font-size:15.8px;letter-spacing:0.62px;color:#6e9fff;-webkit-text-stroke:0.35px currentColor;">Name</span><span class="t" style="left:495.2px;top:8px;font-size:15.8px;letter-spacing:0.57px;color:#6e9fff;-webkit-text-stroke:0.35px currentColor;">Last *</span><span class="t" style="left:585.3px;top:8px;font-size:15.8px;letter-spacing:1.11px;color:#6e9fff;-webkit-text-stroke:0.35px currentColor;">Max</span><span class="t" style="left:664.1px;top:8px;font-size:15.8px;letter-spacing:1.63px;color:#6e9fff;-webkit-text-stroke:0.35px currentColor;">Min</span><div style="position:absolute;left:0;top:29px;width:702.1px;height:1px;background:#2c2e33"></div><div style="position:absolute;left:9.8px;top:41.3px;width:18px;height:5px;border-radius:2.5px;background:#73bf69"></div><span class="t" style="left:36.64px;top:36px;font-size:16.1px;letter-spacing:0.26px;-webkit-text-stroke:0.3px currentColor;">Horno Principal</span><span class="t" style="left:488.19px;top:36px;font-size:16.1px;letter-spacing:0.24px;-webkit-text-stroke:0.3px currentColor;">222 °C</span><span class="t" style="left:566.69px;top:36px;font-size:16.1px;letter-spacing:0.34px;-webkit-text-stroke:0.3px currentColor;">228 °C</span><span class="t" style="left:640.89px;top:36px;font-size:16.1px;letter-spacing:0.42px;-webkit-text-stroke:0.3px currentColor;">220 °C</span><div style="position:absolute;left:0;top:58px;width:702.1px;height:1px;background:#2c2e33"></div><div style="position:absolute;left:9.8px;top:71.3px;width:18px;height:5px;border-radius:2.5px;background:#f2cc0c"></div><span class="t" style="left:36.64px;top:66px;font-size:16.1px;letter-spacing:0.18px;-webkit-text-stroke:0.3px currentColor;">Horno Secundario</span><span class="t" style="left:490.77px;top:66px;font-size:16.1px;letter-spacing:-0.27px;-webkit-text-stroke:0.3px currentColor;">198 °C</span><span class="t" style="left:569.69px;top:66px;font-size:16.1px;letter-spacing:-0.26px;-webkit-text-stroke:0.3px currentColor;">201 °C</span><span class="t" style="left:642.97px;top:66px;font-size:16.1px;letter-spacing:0.01px;-webkit-text-stroke:0.3px currentColor;">188 °C</span><div style="position:absolute;left:0;top:88px;width:702.1px;height:1px;background:#2c2e33"></div><div style="position:absolute;left:9.8px;top:100.3px;width:18px;height:5px;border-radius:2.5px;background:#5794f2"></div><span class="t" style="left:37.23px;top:95px;font-size:16.1px;letter-spacing:0.02px;-webkit-text-stroke:0.3px currentColor;">Sistema Enfriamiento</span><span class="t" style="left:484.19px;top:95px;font-size:16.1px;letter-spacing:0.13px;-webkit-text-stroke:0.3px currentColor;">35.0 °C</span><span class="t" style="left:564.69px;top:95px;font-size:16.1px;letter-spacing:-0.12px;-webkit-text-stroke:0.3px currentColor;">37.0 °C</span><span class="t" style="left:641.39px;top:95px;font-size:16.1px;letter-spacing:-0.48px;-webkit-text-stroke:0.3px currentColor;">29.1 °C</span><div style="position:absolute;left:702.1px;top:0;width:12.6px;height:108px;background:#2c2c2c"><svg width="13" height="108" viewBox="0 0 12.6 108"><path d="M6.4 3 L10.9 9.4 H1.9 Z M6.4 105 L10.9 98.6 H1.9 Z" fill="#9f9f9f"/><rect x="3" y="14.7" width="7" height="71.5" rx="3.5" fill="#9f9f9f"/></svg></div></div></section><section class="panel" style="left:758px;top:281px;width:737px;height:370px"><h2><span class="t" style="left:9.62px;top:12px;font-size:18.2px;letter-spacing:0.4px;-webkit-text-stroke:0.55px currentColor;">Variables de Proceso</span></h2><svg width="735" height="368" viewBox="759 282 735 368"><g stroke="rgba(220,225,240,0.09)" stroke-width="1" shape-rendering="crispEdges"><path d="M806.4 353.5 H1473.6"/><path d="M806.4 374.5 H1473.6"/><path d="M806.4 396.5 H1473.6"/><path d="M806.4 418.5 H1473.6"/><path d="M806.4 440.5 H1473.6"/><path d="M806.4 461.5 H1473.6"/><path d="M806.4 483.5 H1473.6"/><path d="M806.4 505.5 H1473.6"/><path d="M876.5 342.4 V510.4"/><path d="M988.5 342.4 V510.4"/><path d="M1099.5 342.4 V510.4"/><path d="M1210.5 342.4 V510.4"/><path d="M1321.5 342.4 V510.4"/><path d="M1432.5 342.4 V510.4"/></g><path d="M806.4 373.91 L808.62 374.46 L810.85 372.83 L813.07 372.83 L815.3 372.83 L817.52 371.74 L819.74 373.37 L821.97 372.28 L824.19 372.83 L826.42 373.37 L828.64 372.83 L830.86 372.28 L833.09 371.2 L835.31 371.2 L837.54 371.74 L839.76 372.28 L841.98 372.28 L844.21 372.28 L846.43 371.74 L848.66 371.2 L850.88 371.74 L853.1 371.74 L855.33 370.65 L857.55 370.65 L859.78 371.74 L862 370.65 L864.22 371.2 L866.45 371.74 L868.67 371.2 L870.9 371.2 L873.12 371.74 L875.34 372.28 L877.57 372.83 L879.79 372.28 L882.02 371.74 L884.24 372.83 L886.46 373.37 L888.69 373.37 L890.91 372.83 L893.14 371.74 L895.36 371.74 L897.58 372.28 L899.81 371.74 L902.03 371.74 L904.26 371.2 L906.48 371.74 L908.7 371.2 L910.93 371.74 L913.15 371.2 L915.38 371.74 L917.6 371.74 L919.82 371.2 L922.05 372.28 L924.27 371.74 L926.5 371.74 L928.72 372.28 L930.94 373.37 L933.17 373.37 L935.39 373.37 L937.62 372.83 L939.84 373.91 L942.06 372.83 L944.29 372.28 L946.51 373.91 L948.74 373.37 L950.96 373.91 L953.18 374.46 L955.41 373.37 L957.63 373.91 L959.86 373.91 L962.08 373.37 L964.3 373.37 L966.53 372.83 L968.75 372.28 L970.98 373.37 L973.2 374.46 L975.42 373.91 L977.65 374.46 L979.87 375 L982.1 375 L984.32 373.91 L986.54 375 L988.77 373.91 L990.99 374.46 L993.22 374.46 L995.44 373.91 L997.66 375 L999.89 375.54 L1002.11 375 L1004.34 375 L1006.56 375.54 L1008.78 376.09 L1011.01 376.63 L1013.23 376.09 L1015.46 375.54 L1017.68 376.09 L1019.9 377.17 L1022.13 376.63 L1024.35 377.17 L1026.58 376.09 L1028.8 376.09 L1031.02 376.09 L1033.25 377.17 L1035.47 376.63 L1037.7 377.17 L1039.92 376.63 L1042.14 376.09 L1044.37 377.17 L1046.59 377.72 L1048.82 377.17 L1051.04 377.72 L1053.26 377.72 L1055.49 376.63 L1057.71 377.17 L1059.94 377.17 L1062.16 377.72 L1064.38 376.09 L1066.61 375.54 L1068.83 375 L1071.06 374.46 L1073.28 375.54 L1075.5 375 L1077.73 375.54 L1079.95 376.09 L1082.18 377.17 L1084.4 377.17 L1086.62 377.17 L1088.85 376.63 L1091.07 376.63 L1093.3 377.72 L1095.52 377.17 L1097.74 377.72 L1099.97 377.17 L1102.19 377.17 L1104.42 377.17 L1106.64 376.63 L1108.86 376.09 L1111.09 375 L1113.31 375.54 L1115.54 375 L1117.76 375 L1119.98 375.54 L1122.21 376.09 L1124.43 376.09 L1126.66 375.54 L1128.88 376.09 L1131.1 376.63 L1133.33 375.54 L1135.55 375.54 L1137.78 377.17 L1140 376.63 L1142.22 375.54 L1144.45 376.09 L1146.67 375.54 L1148.9 375.54 L1151.12 376.63 L1153.34 376.09 L1155.57 377.17 L1157.79 378.26 L1160.02 377.17 L1162.24 377.72 L1164.46 377.17 L1166.69 377.17 L1168.91 377.17 L1171.14 377.17 L1173.36 377.17 L1175.58 376.63 L1177.81 376.09 L1180.03 377.17 L1182.26 376.63 L1184.48 378.26 L1186.7 377.72 L1188.93 377.72 L1191.15 378.8 L1193.38 378.8 L1195.6 378.26 L1197.82 378.8 L1200.05 378.8 L1202.27 377.72 L1204.5 378.26 L1206.72 377.72 L1208.94 378.8 L1211.17 378.8 L1213.39 378.8 L1215.62 378.26 L1217.84 378.26 L1220.06 377.17 L1222.29 376.63 L1224.51 376.63 L1226.74 377.72 L1228.96 377.17 L1231.18 375.54 L1233.41 376.09 L1235.63 375.54 L1237.86 375 L1240.08 376.09 L1242.3 374.46 L1244.53 375 L1246.75 375 L1248.98 373.91 L1251.2 375 L1253.42 373.91 L1255.65 374.46 L1257.87 373.91 L1260.1 373.91 L1262.32 372.83 L1264.54 372.83 L1266.77 371.74 L1268.99 371.2 L1271.22 370.65 L1273.44 370.11 L1275.66 370.65 L1277.89 370.11 L1280.11 369.57 L1282.34 370.11 L1284.56 369.57 L1286.78 369.02 L1289.01 369.02 L1291.23 367.94 L1293.46 369.02 L1295.68 367.39 L1297.9 366.85 L1300.13 367.94 L1302.35 368.48 L1304.58 367.94 L1306.8 367.39 L1309.02 366.85 L1311.25 366.85 L1313.47 366.85 L1315.7 366.31 L1317.92 366.31 L1320.14 366.31 L1322.37 365.22 L1324.59 364.68 L1326.82 364.13 L1329.04 363.59 L1331.26 363.59 L1333.49 364.68 L1335.71 364.68 L1337.94 365.22 L1340.16 366.31 L1342.38 366.85 L1344.61 367.39 L1346.83 367.39 L1349.06 366.85 L1351.28 367.39 L1353.5 366.85 L1355.73 367.39 L1357.95 368.48 L1360.18 369.02 L1362.4 367.94 L1364.62 367.94 L1366.85 367.39 L1369.07 367.39 L1371.3 366.85 L1373.52 366.31 L1375.74 365.76 L1377.97 365.22 L1380.19 365.76 L1382.42 365.76 L1384.64 366.31 L1386.86 366.85 L1389.09 366.85 L1391.31 366.31 L1393.54 366.31 L1395.76 365.22 L1397.98 364.13 L1400.21 365.22 L1402.43 364.68 L1404.66 365.22 L1406.88 366.31 L1409.1 366.31 L1411.33 367.39 L1413.55 367.94 L1415.78 367.39 L1418 367.39 L1420.22 367.39 L1422.45 366.85 L1424.67 366.85 L1426.9 367.39 L1429.12 367.94 L1431.34 368.48 L1433.57 369.02 L1435.79 369.02 L1438.02 369.57 L1440.24 369.57 L1442.46 369.02 L1444.69 369.02 L1446.91 369.57 L1449.14 368.48 L1451.36 369.02 L1453.58 368.48 L1455.81 369.57 L1458.03 369.02 L1460.26 369.57 L1462.48 368.48 L1464.7 370.11 L1466.93 370.65 L1469.15 370.11 L1471.38 370.65 L1473.6 370.65 L1473.6 505.4 L806.4 505.4 Z" fill="#f2cc0c" fill-opacity="0.1"/><path d="M806.4 428.79 L808.62 428.25 L810.85 427.7 L813.07 426.62 L815.3 426.07 L817.52 426.07 L819.74 425.53 L821.97 426.62 L824.19 426.62 L826.42 427.7 L828.64 428.25 L830.86 427.7 L833.09 428.25 L835.31 428.25 L837.54 427.7 L839.76 429.33 L841.98 428.79 L844.21 427.7 L846.43 427.16 L848.66 427.7 L850.88 428.25 L853.1 428.25 L855.33 427.7 L857.55 428.25 L859.78 426.62 L862 426.62 L864.22 426.62 L866.45 427.16 L868.67 427.16 L870.9 426.62 L873.12 427.16 L875.34 426.62 L877.57 426.62 L879.79 425.53 L882.02 424.44 L884.24 425.53 L886.46 426.07 L888.69 424.44 L890.91 425.53 L893.14 425.53 L895.36 424.44 L897.58 424.44 L899.81 424.44 L902.03 423.9 L904.26 423.36 L906.48 424.44 L908.7 423.36 L910.93 423.36 L913.15 423.36 L915.38 422.81 L917.6 422.81 L919.82 422.27 L922.05 422.81 L924.27 423.36 L926.5 423.36 L928.72 423.36 L930.94 422.27 L933.17 421.18 L935.39 421.73 L937.62 421.18 L939.84 420.64 L942.06 420.64 L944.29 420.1 L946.51 420.64 L948.74 420.1 L950.96 421.18 L953.18 421.18 L955.41 421.73 L957.63 421.73 L959.86 421.73 L962.08 421.73 L964.3 422.81 L966.53 422.27 L968.75 422.27 L970.98 421.18 L973.2 421.18 L975.42 422.27 L977.65 422.27 L979.87 421.73 L982.1 422.81 L984.32 421.73 L986.54 423.36 L988.77 422.81 L990.99 422.81 L993.22 422.27 L995.44 423.36 L997.66 424.44 L999.89 424.99 L1002.11 425.53 L1004.34 425.53 L1006.56 424.99 L1008.78 425.53 L1011.01 425.53 L1013.23 424.44 L1015.46 424.99 L1017.68 423.9 L1019.9 424.44 L1022.13 423.36 L1024.35 423.36 L1026.58 422.27 L1028.8 422.27 L1031.02 423.9 L1033.25 422.81 L1035.47 421.73 L1037.7 421.73 L1039.92 422.27 L1042.14 423.36 L1044.37 423.9 L1046.59 423.36 L1048.82 422.27 L1051.04 422.81 L1053.26 422.27 L1055.49 421.18 L1057.71 421.18 L1059.94 420.64 L1062.16 420.1 L1064.38 420.1 L1066.61 421.18 L1068.83 420.64 L1071.06 420.1 L1073.28 419.55 L1075.5 420.1 L1077.73 420.64 L1079.95 420.64 L1082.18 420.1 L1084.4 420.1 L1086.62 419.01 L1088.85 418.47 L1091.07 418.47 L1093.3 418.47 L1095.52 419.01 L1097.74 419.01 L1099.97 417.38 L1102.19 417.92 L1104.42 417.38 L1106.64 416.84 L1108.86 416.29 L1111.09 416.84 L1113.31 416.84 L1115.54 417.92 L1117.76 418.47 L1119.98 419.01 L1122.21 419.01 L1124.43 419.55 L1126.66 420.1 L1128.88 420.1 L1131.1 421.18 L1133.33 420.1 L1135.55 421.18 L1137.78 421.18 L1140 420.64 L1142.22 421.18 L1144.45 421.73 L1146.67 422.27 L1148.9 422.27 L1151.12 421.73 L1153.34 420.64 L1155.57 420.1 L1157.79 420.64 L1160.02 420.1 L1162.24 420.64 L1164.46 421.18 L1166.69 420.1 L1168.91 421.73 L1171.14 420.64 L1173.36 421.73 L1175.58 421.73 L1177.81 420.64 L1180.03 421.18 L1182.26 420.64 L1184.48 420.64 L1186.7 421.18 L1188.93 420.1 L1191.15 421.18 L1193.38 420.64 L1195.6 420.64 L1197.82 419.55 L1200.05 420.1 L1202.27 420.64 L1204.5 420.64 L1206.72 419.55 L1208.94 419.55 L1211.17 419.01 L1213.39 418.47 L1215.62 417.92 L1217.84 417.92 L1220.06 418.47 L1222.29 419.01 L1224.51 418.47 L1226.74 419.01 L1228.96 417.92 L1231.18 417.92 L1233.41 417.92 L1235.63 418.47 L1237.86 418.47 L1240.08 417.92 L1242.3 417.92 L1244.53 418.47 L1246.75 417.92 L1248.98 417.92 L1251.2 417.38 L1253.42 417.92 L1255.65 419.01 L1257.87 419.55 L1260.1 419.55 L1262.32 418.47 L1264.54 419.01 L1266.77 419.55 L1268.99 419.01 L1271.22 419.01 L1273.44 419.55 L1275.66 420.1 L1277.89 419.01 L1280.11 419.01 L1282.34 417.92 L1284.56 419.01 L1286.78 419.55 L1289.01 418.47 L1291.23 418.47 L1293.46 419.01 L1295.68 419.55 L1297.9 418.47 L1300.13 418.47 L1302.35 419.55 L1304.58 419.01 L1306.8 417.92 L1309.02 417.92 L1311.25 418.47 L1313.47 418.47 L1315.7 419.01 L1317.92 417.92 L1320.14 418.47 L1322.37 417.92 L1324.59 417.92 L1326.82 417.92 L1329.04 418.47 L1331.26 419.01 L1333.49 417.38 L1335.71 416.29 L1337.94 416.29 L1340.16 415.21 L1342.38 414.66 L1344.61 415.21 L1346.83 415.75 L1349.06 416.29 L1351.28 416.84 L1353.5 415.75 L1355.73 416.29 L1357.95 414.66 L1360.18 414.12 L1362.4 413.58 L1364.62 414.12 L1366.85 413.03 L1369.07 413.58 L1371.3 414.12 L1373.52 413.03 L1375.74 414.12 L1377.97 413.58 L1380.19 413.58 L1382.42 413.03 L1384.64 413.03 L1386.86 414.12 L1389.09 414.66 L1391.31 414.66 L1393.54 414.66 L1395.76 415.21 L1397.98 414.12 L1400.21 415.21 L1402.43 416.29 L1404.66 414.66 L1406.88 415.21 L1409.1 414.12 L1411.33 415.21 L1413.55 414.12 L1415.78 414.12 L1418 415.75 L1420.22 416.29 L1422.45 416.84 L1424.67 416.29 L1426.9 417.38 L1429.12 416.29 L1431.34 416.84 L1433.57 415.75 L1435.79 416.29 L1438.02 417.38 L1440.24 417.38 L1442.46 416.84 L1444.69 416.84 L1446.91 416.29 L1449.14 416.84 L1451.36 416.84 L1453.58 417.38 L1455.81 417.38 L1458.03 417.92 L1460.26 416.84 L1462.48 417.92 L1464.7 417.38 L1466.93 418.47 L1469.15 419.01 L1471.38 417.92 L1473.6 416.84 L1473.6 505.4 L806.4 505.4 Z" fill="#5794f2" fill-opacity="0.1"/><path d="M806.4 498.34 L808.62 498.34 L810.85 498.88 L813.07 497.79 L815.3 497.79 L817.52 497.79 L819.74 498.34 L821.97 498.34 L824.19 498.34 L826.42 498.34 L828.64 499.42 L830.86 499.42 L833.09 498.88 L835.31 498.88 L837.54 499.42 L839.76 499.42 L841.98 500.51 L844.21 500.51 L846.43 499.97 L848.66 499.97 L850.88 500.51 L853.1 499.42 L855.33 499.97 L857.55 500.51 L859.78 501.05 L862 501.05 L864.22 500.51 L866.45 501.05 L868.67 499.97 L870.9 499.97 L873.12 500.51 L875.34 499.97 L877.57 500.51 L879.79 499.42 L882.02 499.97 L884.24 500.51 L886.46 500.51 L888.69 499.42 L890.91 499.97 L893.14 501.05 L895.36 499.97 L897.58 500.51 L899.81 501.05 L902.03 500.51 L904.26 501.05 L906.48 500.51 L908.7 499.97 L910.93 499.97 L913.15 499.97 L915.38 500.51 L917.6 499.97 L919.82 499.42 L922.05 499.97 L924.27 499.97 L926.5 498.88 L928.72 498.34 L930.94 498.34 L933.17 497.79 L935.39 498.34 L937.62 498.34 L939.84 498.34 L942.06 498.88 L944.29 498.88 L946.51 498.34 L948.74 498.88 L950.96 498.88 L953.18 497.79 L955.41 497.79 L957.63 497.25 L959.86 497.79 L962.08 498.34 L964.3 498.88 L966.53 498.34 L968.75 498.34 L970.98 497.25 L973.2 497.25 L975.42 496.16 L977.65 497.25 L979.87 497.25 L982.1 496.16 L984.32 496.16 L986.54 495.62 L988.77 495.08 L990.99 495.08 L993.22 495.62 L995.44 496.71 L997.66 495.08 L999.89 495.62 L1002.11 495.62 L1004.34 496.16 L1006.56 495.62 L1008.78 495.62 L1011.01 496.16 L1013.23 495.62 L1015.46 495.08 L1017.68 495.08 L1019.9 494.53 L1022.13 493.99 L1024.35 493.99 L1026.58 495.08 L1028.8 495.08 L1031.02 495.08 L1033.25 494.53 L1035.47 495.08 L1037.7 495.62 L1039.92 496.16 L1042.14 496.16 L1044.37 495.62 L1046.59 496.71 L1048.82 496.16 L1051.04 495.62 L1053.26 496.71 L1055.49 497.25 L1057.71 497.25 L1059.94 496.71 L1062.16 496.16 L1064.38 495.62 L1066.61 496.16 L1068.83 496.16 L1071.06 496.71 L1073.28 496.71 L1075.5 496.16 L1077.73 496.71 L1079.95 496.16 L1082.18 496.71 L1084.4 496.16 L1086.62 496.16 L1088.85 497.25 L1091.07 497.79 L1093.3 497.25 L1095.52 496.16 L1097.74 497.25 L1099.97 497.79 L1102.19 497.25 L1104.42 496.71 L1106.64 496.71 L1108.86 496.71 L1111.09 496.71 L1113.31 497.25 L1115.54 497.25 L1117.76 496.71 L1119.98 496.16 L1122.21 495.62 L1124.43 495.08 L1126.66 495.08 L1128.88 495.62 L1131.1 495.62 L1133.33 495.62 L1135.55 496.71 L1137.78 496.16 L1140 497.25 L1142.22 496.71 L1144.45 497.25 L1146.67 498.34 L1148.9 498.88 L1151.12 498.34 L1153.34 499.42 L1155.57 499.97 L1157.79 499.97 L1160.02 498.88 L1162.24 498.34 L1164.46 498.88 L1166.69 498.88 L1168.91 499.97 L1171.14 500.51 L1173.36 499.97 L1175.58 500.51 L1177.81 499.42 L1180.03 500.51 L1182.26 499.97 L1184.48 501.05 L1186.7 499.97 L1188.93 499.97 L1191.15 498.88 L1193.38 499.42 L1195.6 499.97 L1197.82 499.42 L1200.05 498.88 L1202.27 498.88 L1204.5 498.34 L1206.72 498.34 L1208.94 498.88 L1211.17 499.42 L1213.39 499.42 L1215.62 498.88 L1217.84 498.88 L1220.06 498.34 L1222.29 498.34 L1224.51 498.88 L1226.74 497.79 L1228.96 497.25 L1231.18 497.25 L1233.41 496.71 L1235.63 495.62 L1237.86 496.16 L1240.08 496.16 L1242.3 495.08 L1244.53 496.16 L1246.75 496.16 L1248.98 495.62 L1251.2 496.16 L1253.42 496.16 L1255.65 495.62 L1257.87 495.08 L1260.1 496.16 L1262.32 495.62 L1264.54 495.08 L1266.77 495.62 L1268.99 495.62 L1271.22 496.71 L1273.44 497.25 L1275.66 497.79 L1277.89 497.79 L1280.11 497.79 L1282.34 498.34 L1284.56 498.88 L1286.78 498.34 L1289.01 498.34 L1291.23 498.34 L1293.46 499.42 L1295.68 500.51 L1297.9 501.05 L1300.13 501.05 L1302.35 499.97 L1304.58 500.51 L1306.8 499.42 L1309.02 500.51 L1311.25 499.97 L1313.47 499.42 L1315.7 499.42 L1317.92 499.42 L1320.14 499.97 L1322.37 499.42 L1324.59 498.88 L1326.82 498.88 L1329.04 497.79 L1331.26 497.79 L1333.49 498.34 L1335.71 499.42 L1337.94 499.42 L1340.16 499.42 L1342.38 498.34 L1344.61 497.79 L1346.83 498.34 L1349.06 498.88 L1351.28 499.42 L1353.5 499.42 L1355.73 499.42 L1357.95 499.42 L1360.18 499.42 L1362.4 499.42 L1364.62 499.97 L1366.85 500.51 L1369.07 499.97 L1371.3 499.97 L1373.52 499.42 L1375.74 499.97 L1377.97 500.51 L1380.19 499.97 L1382.42 500.51 L1384.64 500.51 L1386.86 499.97 L1389.09 500.51 L1391.31 499.97 L1393.54 500.51 L1395.76 498.88 L1397.98 498.88 L1400.21 498.34 L1402.43 498.88 L1404.66 498.34 L1406.88 497.79 L1409.1 497.79 L1411.33 497.79 L1413.55 497.79 L1415.78 497.25 L1418 497.25 L1420.22 497.79 L1422.45 497.79 L1424.67 497.79 L1426.9 497.79 L1429.12 496.71 L1431.34 497.79 L1433.57 497.25 L1435.79 496.71 L1438.02 496.16 L1440.24 496.71 L1442.46 497.25 L1444.69 496.71 L1446.91 496.71 L1449.14 497.79 L1451.36 497.79 L1453.58 497.25 L1455.81 496.71 L1458.03 495.62 L1460.26 496.16 L1462.48 496.71 L1464.7 496.71 L1466.93 495.62 L1469.15 495.08 L1471.38 495.62 L1473.6 495.62 L1473.6 505.4 L806.4 505.4 Z" fill="#73bf69" fill-opacity="0.1"/><path d="M806.4 373.91 L808.62 374.46 L810.85 372.83 L813.07 372.83 L815.3 372.83 L817.52 371.74 L819.74 373.37 L821.97 372.28 L824.19 372.83 L826.42 373.37 L828.64 372.83 L830.86 372.28 L833.09 371.2 L835.31 371.2 L837.54 371.74 L839.76 372.28 L841.98 372.28 L844.21 372.28 L846.43 371.74 L848.66 371.2 L850.88 371.74 L853.1 371.74 L855.33 370.65 L857.55 370.65 L859.78 371.74 L862 370.65 L864.22 371.2 L866.45 371.74 L868.67 371.2 L870.9 371.2 L873.12 371.74 L875.34 372.28 L877.57 372.83 L879.79 372.28 L882.02 371.74 L884.24 372.83 L886.46 373.37 L888.69 373.37 L890.91 372.83 L893.14 371.74 L895.36 371.74 L897.58 372.28 L899.81 371.74 L902.03 371.74 L904.26 371.2 L906.48 371.74 L908.7 371.2 L910.93 371.74 L913.15 371.2 L915.38 371.74 L917.6 371.74 L919.82 371.2 L922.05 372.28 L924.27 371.74 L926.5 371.74 L928.72 372.28 L930.94 373.37 L933.17 373.37 L935.39 373.37 L937.62 372.83 L939.84 373.91 L942.06 372.83 L944.29 372.28 L946.51 373.91 L948.74 373.37 L950.96 373.91 L953.18 374.46 L955.41 373.37 L957.63 373.91 L959.86 373.91 L962.08 373.37 L964.3 373.37 L966.53 372.83 L968.75 372.28 L970.98 373.37 L973.2 374.46 L975.42 373.91 L977.65 374.46 L979.87 375 L982.1 375 L984.32 373.91 L986.54 375 L988.77 373.91 L990.99 374.46 L993.22 374.46 L995.44 373.91 L997.66 375 L999.89 375.54 L1002.11 375 L1004.34 375 L1006.56 375.54 L1008.78 376.09 L1011.01 376.63 L1013.23 376.09 L1015.46 375.54 L1017.68 376.09 L1019.9 377.17 L1022.13 376.63 L1024.35 377.17 L1026.58 376.09 L1028.8 376.09 L1031.02 376.09 L1033.25 377.17 L1035.47 376.63 L1037.7 377.17 L1039.92 376.63 L1042.14 376.09 L1044.37 377.17 L1046.59 377.72 L1048.82 377.17 L1051.04 377.72 L1053.26 377.72 L1055.49 376.63 L1057.71 377.17 L1059.94 377.17 L1062.16 377.72 L1064.38 376.09 L1066.61 375.54 L1068.83 375 L1071.06 374.46 L1073.28 375.54 L1075.5 375 L1077.73 375.54 L1079.95 376.09 L1082.18 377.17 L1084.4 377.17 L1086.62 377.17 L1088.85 376.63 L1091.07 376.63 L1093.3 377.72 L1095.52 377.17 L1097.74 377.72 L1099.97 377.17 L1102.19 377.17 L1104.42 377.17 L1106.64 376.63 L1108.86 376.09 L1111.09 375 L1113.31 375.54 L1115.54 375 L1117.76 375 L1119.98 375.54 L1122.21 376.09 L1124.43 376.09 L1126.66 375.54 L1128.88 376.09 L1131.1 376.63 L1133.33 375.54 L1135.55 375.54 L1137.78 377.17 L1140 376.63 L1142.22 375.54 L1144.45 376.09 L1146.67 375.54 L1148.9 375.54 L1151.12 376.63 L1153.34 376.09 L1155.57 377.17 L1157.79 378.26 L1160.02 377.17 L1162.24 377.72 L1164.46 377.17 L1166.69 377.17 L1168.91 377.17 L1171.14 377.17 L1173.36 377.17 L1175.58 376.63 L1177.81 376.09 L1180.03 377.17 L1182.26 376.63 L1184.48 378.26 L1186.7 377.72 L1188.93 377.72 L1191.15 378.8 L1193.38 378.8 L1195.6 378.26 L1197.82 378.8 L1200.05 378.8 L1202.27 377.72 L1204.5 378.26 L1206.72 377.72 L1208.94 378.8 L1211.17 378.8 L1213.39 378.8 L1215.62 378.26 L1217.84 378.26 L1220.06 377.17 L1222.29 376.63 L1224.51 376.63 L1226.74 377.72 L1228.96 377.17 L1231.18 375.54 L1233.41 376.09 L1235.63 375.54 L1237.86 375 L1240.08 376.09 L1242.3 374.46 L1244.53 375 L1246.75 375 L1248.98 373.91 L1251.2 375 L1253.42 373.91 L1255.65 374.46 L1257.87 373.91 L1260.1 373.91 L1262.32 372.83 L1264.54 372.83 L1266.77 371.74 L1268.99 371.2 L1271.22 370.65 L1273.44 370.11 L1275.66 370.65 L1277.89 370.11 L1280.11 369.57 L1282.34 370.11 L1284.56 369.57 L1286.78 369.02 L1289.01 369.02 L1291.23 367.94 L1293.46 369.02 L1295.68 367.39 L1297.9 366.85 L1300.13 367.94 L1302.35 368.48 L1304.58 367.94 L1306.8 367.39 L1309.02 366.85 L1311.25 366.85 L1313.47 366.85 L1315.7 366.31 L1317.92 366.31 L1320.14 366.31 L1322.37 365.22 L1324.59 364.68 L1326.82 364.13 L1329.04 363.59 L1331.26 363.59 L1333.49 364.68 L1335.71 364.68 L1337.94 365.22 L1340.16 366.31 L1342.38 366.85 L1344.61 367.39 L1346.83 367.39 L1349.06 366.85 L1351.28 367.39 L1353.5 366.85 L1355.73 367.39 L1357.95 368.48 L1360.18 369.02 L1362.4 367.94 L1364.62 367.94 L1366.85 367.39 L1369.07 367.39 L1371.3 366.85 L1373.52 366.31 L1375.74 365.76 L1377.97 365.22 L1380.19 365.76 L1382.42 365.76 L1384.64 366.31 L1386.86 366.85 L1389.09 366.85 L1391.31 366.31 L1393.54 366.31 L1395.76 365.22 L1397.98 364.13 L1400.21 365.22 L1402.43 364.68 L1404.66 365.22 L1406.88 366.31 L1409.1 366.31 L1411.33 367.39 L1413.55 367.94 L1415.78 367.39 L1418 367.39 L1420.22 367.39 L1422.45 366.85 L1424.67 366.85 L1426.9 367.39 L1429.12 367.94 L1431.34 368.48 L1433.57 369.02 L1435.79 369.02 L1438.02 369.57 L1440.24 369.57 L1442.46 369.02 L1444.69 369.02 L1446.91 369.57 L1449.14 368.48 L1451.36 369.02 L1453.58 368.48 L1455.81 369.57 L1458.03 369.02 L1460.26 369.57 L1462.48 368.48 L1464.7 370.11 L1466.93 370.65 L1469.15 370.11 L1471.38 370.65 L1473.6 370.65" fill="none" stroke="#f2cc0c" stroke-width="2.55" stroke-linejoin="round"/><path d="M806.4 428.79 L808.62 428.25 L810.85 427.7 L813.07 426.62 L815.3 426.07 L817.52 426.07 L819.74 425.53 L821.97 426.62 L824.19 426.62 L826.42 427.7 L828.64 428.25 L830.86 427.7 L833.09 428.25 L835.31 428.25 L837.54 427.7 L839.76 429.33 L841.98 428.79 L844.21 427.7 L846.43 427.16 L848.66 427.7 L850.88 428.25 L853.1 428.25 L855.33 427.7 L857.55 428.25 L859.78 426.62 L862 426.62 L864.22 426.62 L866.45 427.16 L868.67 427.16 L870.9 426.62 L873.12 427.16 L875.34 426.62 L877.57 426.62 L879.79 425.53 L882.02 424.44 L884.24 425.53 L886.46 426.07 L888.69 424.44 L890.91 425.53 L893.14 425.53 L895.36 424.44 L897.58 424.44 L899.81 424.44 L902.03 423.9 L904.26 423.36 L906.48 424.44 L908.7 423.36 L910.93 423.36 L913.15 423.36 L915.38 422.81 L917.6 422.81 L919.82 422.27 L922.05 422.81 L924.27 423.36 L926.5 423.36 L928.72 423.36 L930.94 422.27 L933.17 421.18 L935.39 421.73 L937.62 421.18 L939.84 420.64 L942.06 420.64 L944.29 420.1 L946.51 420.64 L948.74 420.1 L950.96 421.18 L953.18 421.18 L955.41 421.73 L957.63 421.73 L959.86 421.73 L962.08 421.73 L964.3 422.81 L966.53 422.27 L968.75 422.27 L970.98 421.18 L973.2 421.18 L975.42 422.27 L977.65 422.27 L979.87 421.73 L982.1 422.81 L984.32 421.73 L986.54 423.36 L988.77 422.81 L990.99 422.81 L993.22 422.27 L995.44 423.36 L997.66 424.44 L999.89 424.99 L1002.11 425.53 L1004.34 425.53 L1006.56 424.99 L1008.78 425.53 L1011.01 425.53 L1013.23 424.44 L1015.46 424.99 L1017.68 423.9 L1019.9 424.44 L1022.13 423.36 L1024.35 423.36 L1026.58 422.27 L1028.8 422.27 L1031.02 423.9 L1033.25 422.81 L1035.47 421.73 L1037.7 421.73 L1039.92 422.27 L1042.14 423.36 L1044.37 423.9 L1046.59 423.36 L1048.82 422.27 L1051.04 422.81 L1053.26 422.27 L1055.49 421.18 L1057.71 421.18 L1059.94 420.64 L1062.16 420.1 L1064.38 420.1 L1066.61 421.18 L1068.83 420.64 L1071.06 420.1 L1073.28 419.55 L1075.5 420.1 L1077.73 420.64 L1079.95 420.64 L1082.18 420.1 L1084.4 420.1 L1086.62 419.01 L1088.85 418.47 L1091.07 418.47 L1093.3 418.47 L1095.52 419.01 L1097.74 419.01 L1099.97 417.38 L1102.19 417.92 L1104.42 417.38 L1106.64 416.84 L1108.86 416.29 L1111.09 416.84 L1113.31 416.84 L1115.54 417.92 L1117.76 418.47 L1119.98 419.01 L1122.21 419.01 L1124.43 419.55 L1126.66 420.1 L1128.88 420.1 L1131.1 421.18 L1133.33 420.1 L1135.55 421.18 L1137.78 421.18 L1140 420.64 L1142.22 421.18 L1144.45 421.73 L1146.67 422.27 L1148.9 422.27 L1151.12 421.73 L1153.34 420.64 L1155.57 420.1 L1157.79 420.64 L1160.02 420.1 L1162.24 420.64 L1164.46 421.18 L1166.69 420.1 L1168.91 421.73 L1171.14 420.64 L1173.36 421.73 L1175.58 421.73 L1177.81 420.64 L1180.03 421.18 L1182.26 420.64 L1184.48 420.64 L1186.7 421.18 L1188.93 420.1 L1191.15 421.18 L1193.38 420.64 L1195.6 420.64 L1197.82 419.55 L1200.05 420.1 L1202.27 420.64 L1204.5 420.64 L1206.72 419.55 L1208.94 419.55 L1211.17 419.01 L1213.39 418.47 L1215.62 417.92 L1217.84 417.92 L1220.06 418.47 L1222.29 419.01 L1224.51 418.47 L1226.74 419.01 L1228.96 417.92 L1231.18 417.92 L1233.41 417.92 L1235.63 418.47 L1237.86 418.47 L1240.08 417.92 L1242.3 417.92 L1244.53 418.47 L1246.75 417.92 L1248.98 417.92 L1251.2 417.38 L1253.42 417.92 L1255.65 419.01 L1257.87 419.55 L1260.1 419.55 L1262.32 418.47 L1264.54 419.01 L1266.77 419.55 L1268.99 419.01 L1271.22 419.01 L1273.44 419.55 L1275.66 420.1 L1277.89 419.01 L1280.11 419.01 L1282.34 417.92 L1284.56 419.01 L1286.78 419.55 L1289.01 418.47 L1291.23 418.47 L1293.46 419.01 L1295.68 419.55 L1297.9 418.47 L1300.13 418.47 L1302.35 419.55 L1304.58 419.01 L1306.8 417.92 L1309.02 417.92 L1311.25 418.47 L1313.47 418.47 L1315.7 419.01 L1317.92 417.92 L1320.14 418.47 L1322.37 417.92 L1324.59 417.92 L1326.82 417.92 L1329.04 418.47 L1331.26 419.01 L1333.49 417.38 L1335.71 416.29 L1337.94 416.29 L1340.16 415.21 L1342.38 414.66 L1344.61 415.21 L1346.83 415.75 L1349.06 416.29 L1351.28 416.84 L1353.5 415.75 L1355.73 416.29 L1357.95 414.66 L1360.18 414.12 L1362.4 413.58 L1364.62 414.12 L1366.85 413.03 L1369.07 413.58 L1371.3 414.12 L1373.52 413.03 L1375.74 414.12 L1377.97 413.58 L1380.19 413.58 L1382.42 413.03 L1384.64 413.03 L1386.86 414.12 L1389.09 414.66 L1391.31 414.66 L1393.54 414.66 L1395.76 415.21 L1397.98 414.12 L1400.21 415.21 L1402.43 416.29 L1404.66 414.66 L1406.88 415.21 L1409.1 414.12 L1411.33 415.21 L1413.55 414.12 L1415.78 414.12 L1418 415.75 L1420.22 416.29 L1422.45 416.84 L1424.67 416.29 L1426.9 417.38 L1429.12 416.29 L1431.34 416.84 L1433.57 415.75 L1435.79 416.29 L1438.02 417.38 L1440.24 417.38 L1442.46 416.84 L1444.69 416.84 L1446.91 416.29 L1449.14 416.84 L1451.36 416.84 L1453.58 417.38 L1455.81 417.38 L1458.03 417.92 L1460.26 416.84 L1462.48 417.92 L1464.7 417.38 L1466.93 418.47 L1469.15 419.01 L1471.38 417.92 L1473.6 416.84" fill="none" stroke="#5794f2" stroke-width="2.55" stroke-linejoin="round"/><path d="M806.4 498.34 L808.62 498.34 L810.85 498.88 L813.07 497.79 L815.3 497.79 L817.52 497.79 L819.74 498.34 L821.97 498.34 L824.19 498.34 L826.42 498.34 L828.64 499.42 L830.86 499.42 L833.09 498.88 L835.31 498.88 L837.54 499.42 L839.76 499.42 L841.98 500.51 L844.21 500.51 L846.43 499.97 L848.66 499.97 L850.88 500.51 L853.1 499.42 L855.33 499.97 L857.55 500.51 L859.78 501.05 L862 501.05 L864.22 500.51 L866.45 501.05 L868.67 499.97 L870.9 499.97 L873.12 500.51 L875.34 499.97 L877.57 500.51 L879.79 499.42 L882.02 499.97 L884.24 500.51 L886.46 500.51 L888.69 499.42 L890.91 499.97 L893.14 501.05 L895.36 499.97 L897.58 500.51 L899.81 501.05 L902.03 500.51 L904.26 501.05 L906.48 500.51 L908.7 499.97 L910.93 499.97 L913.15 499.97 L915.38 500.51 L917.6 499.97 L919.82 499.42 L922.05 499.97 L924.27 499.97 L926.5 498.88 L928.72 498.34 L930.94 498.34 L933.17 497.79 L935.39 498.34 L937.62 498.34 L939.84 498.34 L942.06 498.88 L944.29 498.88 L946.51 498.34 L948.74 498.88 L950.96 498.88 L953.18 497.79 L955.41 497.79 L957.63 497.25 L959.86 497.79 L962.08 498.34 L964.3 498.88 L966.53 498.34 L968.75 498.34 L970.98 497.25 L973.2 497.25 L975.42 496.16 L977.65 497.25 L979.87 497.25 L982.1 496.16 L984.32 496.16 L986.54 495.62 L988.77 495.08 L990.99 495.08 L993.22 495.62 L995.44 496.71 L997.66 495.08 L999.89 495.62 L1002.11 495.62 L1004.34 496.16 L1006.56 495.62 L1008.78 495.62 L1011.01 496.16 L1013.23 495.62 L1015.46 495.08 L1017.68 495.08 L1019.9 494.53 L1022.13 493.99 L1024.35 493.99 L1026.58 495.08 L1028.8 495.08 L1031.02 495.08 L1033.25 494.53 L1035.47 495.08 L1037.7 495.62 L1039.92 496.16 L1042.14 496.16 L1044.37 495.62 L1046.59 496.71 L1048.82 496.16 L1051.04 495.62 L1053.26 496.71 L1055.49 497.25 L1057.71 497.25 L1059.94 496.71 L1062.16 496.16 L1064.38 495.62 L1066.61 496.16 L1068.83 496.16 L1071.06 496.71 L1073.28 496.71 L1075.5 496.16 L1077.73 496.71 L1079.95 496.16 L1082.18 496.71 L1084.4 496.16 L1086.62 496.16 L1088.85 497.25 L1091.07 497.79 L1093.3 497.25 L1095.52 496.16 L1097.74 497.25 L1099.97 497.79 L1102.19 497.25 L1104.42 496.71 L1106.64 496.71 L1108.86 496.71 L1111.09 496.71 L1113.31 497.25 L1115.54 497.25 L1117.76 496.71 L1119.98 496.16 L1122.21 495.62 L1124.43 495.08 L1126.66 495.08 L1128.88 495.62 L1131.1 495.62 L1133.33 495.62 L1135.55 496.71 L1137.78 496.16 L1140 497.25 L1142.22 496.71 L1144.45 497.25 L1146.67 498.34 L1148.9 498.88 L1151.12 498.34 L1153.34 499.42 L1155.57 499.97 L1157.79 499.97 L1160.02 498.88 L1162.24 498.34 L1164.46 498.88 L1166.69 498.88 L1168.91 499.97 L1171.14 500.51 L1173.36 499.97 L1175.58 500.51 L1177.81 499.42 L1180.03 500.51 L1182.26 499.97 L1184.48 501.05 L1186.7 499.97 L1188.93 499.97 L1191.15 498.88 L1193.38 499.42 L1195.6 499.97 L1197.82 499.42 L1200.05 498.88 L1202.27 498.88 L1204.5 498.34 L1206.72 498.34 L1208.94 498.88 L1211.17 499.42 L1213.39 499.42 L1215.62 498.88 L1217.84 498.88 L1220.06 498.34 L1222.29 498.34 L1224.51 498.88 L1226.74 497.79 L1228.96 497.25 L1231.18 497.25 L1233.41 496.71 L1235.63 495.62 L1237.86 496.16 L1240.08 496.16 L1242.3 495.08 L1244.53 496.16 L1246.75 496.16 L1248.98 495.62 L1251.2 496.16 L1253.42 496.16 L1255.65 495.62 L1257.87 495.08 L1260.1 496.16 L1262.32 495.62 L1264.54 495.08 L1266.77 495.62 L1268.99 495.62 L1271.22 496.71 L1273.44 497.25 L1275.66 497.79 L1277.89 497.79 L1280.11 497.79 L1282.34 498.34 L1284.56 498.88 L1286.78 498.34 L1289.01 498.34 L1291.23 498.34 L1293.46 499.42 L1295.68 500.51 L1297.9 501.05 L1300.13 501.05 L1302.35 499.97 L1304.58 500.51 L1306.8 499.42 L1309.02 500.51 L1311.25 499.97 L1313.47 499.42 L1315.7 499.42 L1317.92 499.42 L1320.14 499.97 L1322.37 499.42 L1324.59 498.88 L1326.82 498.88 L1329.04 497.79 L1331.26 497.79 L1333.49 498.34 L1335.71 499.42 L1337.94 499.42 L1340.16 499.42 L1342.38 498.34 L1344.61 497.79 L1346.83 498.34 L1349.06 498.88 L1351.28 499.42 L1353.5 499.42 L1355.73 499.42 L1357.95 499.42 L1360.18 499.42 L1362.4 499.42 L1364.62 499.97 L1366.85 500.51 L1369.07 499.97 L1371.3 499.97 L1373.52 499.42 L1375.74 499.97 L1377.97 500.51 L1380.19 499.97 L1382.42 500.51 L1384.64 500.51 L1386.86 499.97 L1389.09 500.51 L1391.31 499.97 L1393.54 500.51 L1395.76 498.88 L1397.98 498.88 L1400.21 498.34 L1402.43 498.88 L1404.66 498.34 L1406.88 497.79 L1409.1 497.79 L1411.33 497.79 L1413.55 497.79 L1415.78 497.25 L1418 497.25 L1420.22 497.79 L1422.45 497.79 L1424.67 497.79 L1426.9 497.79 L1429.12 496.71 L1431.34 497.79 L1433.57 497.25 L1435.79 496.71 L1438.02 496.16 L1440.24 496.71 L1442.46 497.25 L1444.69 496.71 L1446.91 496.71 L1449.14 497.79 L1451.36 497.79 L1453.58 497.25 L1455.81 496.71 L1458.03 495.62 L1460.26 496.16 L1462.48 496.71 L1464.7 496.71 L1466.93 495.62 L1469.15 495.08 L1471.38 495.62 L1473.6 495.62" fill="none" stroke="#73bf69" stroke-width="2.55" stroke-linejoin="round"/><g fill="rgb(204,204,220)"><text x="773.17" y="358" font-size="16.1" letter-spacing="0.3" fill="rgb(204,204,220)" stroke="rgb(204,204,220)" stroke-width="0.3">140</text><text x="773.17" y="379" font-size="16.1" letter-spacing="0.3" fill="rgb(204,204,220)" stroke="rgb(204,204,220)" stroke-width="0.3">120</text><text x="773.17" y="401" font-size="16.1" letter-spacing="0.3" fill="rgb(204,204,220)" stroke="rgb(204,204,220)" stroke-width="0.3">100</text><text x="782.42" y="423" font-size="16.1" letter-spacing="0.3" fill="rgb(204,204,220)" stroke="rgb(204,204,220)" stroke-width="0.3">80</text><text x="782.42" y="445" font-size="16.1" letter-spacing="0.3" fill="rgb(204,204,220)" stroke="rgb(204,204,220)" stroke-width="0.3">60</text><text x="782.42" y="466" font-size="16.1" letter-spacing="0.3" fill="rgb(204,204,220)" stroke="rgb(204,204,220)" stroke-width="0.3">40</text><text x="782.42" y="488" font-size="16.1" letter-spacing="0.3" fill="rgb(204,204,220)" stroke="rgb(204,204,220)" stroke-width="0.3">20</text><text x="791.67" y="510" font-size="16.1" letter-spacing="0.3" fill="rgb(204,204,220)" stroke="rgb(204,204,220)" stroke-width="0.3">0</text><text x="857.67" y="528" font-size="16.1" letter-spacing="-0.86" fill="rgb(204,204,220)" stroke="rgb(204,204,220)" stroke-width="0.3">11:00</text><text x="968.87" y="528" font-size="16.1" letter-spacing="-0.85" fill="rgb(204,204,220)" stroke="rgb(204,204,220)" stroke-width="0.3">11:05</text><text x="1080.07" y="528" font-size="16.1" letter-spacing="-0.86" fill="rgb(204,204,220)" stroke="rgb(204,204,220)" stroke-width="0.3">11:10</text><text x="1191.27" y="528" font-size="16.1" letter-spacing="-0.85" fill="rgb(204,204,220)" stroke="rgb(204,204,220)" stroke-width="0.3">11:15</text><text x="1302.47" y="528" font-size="16.1" letter-spacing="-0.86" fill="rgb(204,204,220)" stroke="rgb(204,204,220)" stroke-width="0.3">11:20</text><text x="1413.67" y="528" font-size="16.1" letter-spacing="-0.85" fill="rgb(204,204,220)" stroke="rgb(204,204,220)" stroke-width="0.3">11:25</text></g></svg><div style="position:absolute;left:10px;top:250px;width:714.9px;height:108px;overflow:hidden"><span class="t" style="left:36.8px;top:8px;font-size:15.8px;letter-spacing:0.62px;color:#6e9fff;-webkit-text-stroke:0.35px currentColor;">Name</span><span class="t" style="left:648.7px;top:8px;font-size:15.8px;letter-spacing:0.47px;color:#6e9fff;-webkit-text-stroke:0.35px currentColor;">Last *</span><div style="position:absolute;left:0;top:29px;width:702.3px;height:1px;background:#2c2e33"></div><div style="position:absolute;left:10.3px;top:41.3px;width:18px;height:5px;border-radius:2.5px;background:#73bf69"></div><span class="t" style="left:36.78px;top:36px;font-size:16.1px;letter-spacing:0.11px;-webkit-text-stroke:0.3px currentColor;">Presion (bar)</span><span class="t" style="left:662.67px;top:36px;font-size:16.1px;letter-spacing:-0.78px;-webkit-text-stroke:0.3px currentColor;">7.74</span><div style="position:absolute;left:0;top:58px;width:702.3px;height:1px;background:#2c2e33"></div><div style="position:absolute;left:10.3px;top:71.3px;width:18px;height:5px;border-radius:2.5px;background:#f2cc0c"></div><span class="t" style="left:36.78px;top:66px;font-size:16.1px;letter-spacing:0.16px;-webkit-text-stroke:0.3px currentColor;">Flujo (L/min)</span><span class="t" style="left:666.27px;top:66px;font-size:16.1px;letter-spacing:-0.73px;-webkit-text-stroke:0.3px currentColor;">124</span><div style="position:absolute;left:0;top:88px;width:702.3px;height:1px;background:#2c2e33"></div><div style="position:absolute;left:10.3px;top:100.3px;width:18px;height:5px;border-radius:2.5px;background:#5794f2"></div><span class="t" style="left:36.78px;top:95px;font-size:16.1px;letter-spacing:0.16px;-webkit-text-stroke:0.3px currentColor;">Nivel Deposito (%)</span><span class="t" style="left:659.3px;top:95px;font-size:16.1px;letter-spacing:0.41px;-webkit-text-stroke:0.3px currentColor;">80.5</span><div style="position:absolute;left:702.3px;top:0;width:12.6px;height:108px;background:#2c2c2c"><svg width="13" height="108" viewBox="0 0 12.6 108"><path d="M6.4 3 L10.9 9.4 H1.9 Z M6.4 105 L10.9 98.6 H1.9 Z" fill="#9f9f9f"/><rect x="3" y="14.7" width="7" height="71.5" rx="3.5" fill="#9f9f9f"/></svg></div></div></section><section class="panel" style="left:10px;top:661px;width:489px;height:179px"><h2><span class="t" style="left:9.54px;top:12px;font-size:18.2px;letter-spacing:0.3px;-webkit-text-stroke:0.55px currentColor;">OEE - Eficiencia Global del Equipo</span></h2><svg width="487" height="177" viewBox="11 662 487 177"><path d="M99.93 992.06 A162 162 0 1 1 408.07 992.06" fill="none" stroke="#22252b" stroke-width="33.2"/><path d="M99.93 992.06 A162 162 0 0 1 396.45 864.85" fill="none" stroke="#73bf69" stroke-width="33.2"/><path d="M79.72 998.63 A183.25 183.25 0 0 1 321.46 771.62" fill="none" stroke="#f2495c" stroke-width="5.7"/><path d="M321.46 771.62 A183.25 183.25 0 0 1 419.81 863.98" fill="none" stroke="#fade2a" stroke-width="5.7"/><path d="M419.81 863.98 A183.25 183.25 0 0 1 428.28 998.63" fill="none" stroke="#73bf69" stroke-width="5.7"/><text transform="translate(327.4 756.6) rotate(21.6)" x="-13.75" y="8.55" font-size="24.5" fill="rgb(204,204,220)">60</text></svg></section><section class="panel" style="left:509px;top:661px;width:489px;height:179px"><h2><span class="t" style="left:8.91px;top:12px;font-size:18.2px;letter-spacing:0.53px;-webkit-text-stroke:0.55px currentColor;">Disponibilidad de Equipos</span></h2><svg width="487" height="177" viewBox="510 662 487 177"><path d="M598.73 992.06 A162 162 0 1 1 906.87 992.06" fill="none" stroke="#22252b" stroke-width="33.2"/><path d="M598.73 992.06 A162 162 0 1 1 914.77 939.15" fill="none" stroke="#fade2a" stroke-width="33.2"/><path d="M578.52 998.63 A183.25 183.25 0 1 1 935.69 930.49" fill="none" stroke="#f2495c" stroke-width="5.7"/><path d="M935.69 930.49 A183.25 183.25 0 0 1 934.61 964.97" fill="none" stroke="#fade2a" stroke-width="5.7"/><path d="M934.61 964.97 A183.25 183.25 0 0 1 927.08 998.63" fill="none" stroke="#73bf69" stroke-width="5.7"/></svg></section><div class="menu" style="left:967.3px;top:661px;width:30.7px;height:41px"><svg width="31" height="41" viewBox="0 0 31 41"><g fill="rgb(204,204,220)"><circle cx="14.4" cy="15.3" r="1.45"/><circle cx="14.4" cy="21.1" r="1.45"/><circle cx="14.4" cy="27" r="1.45"/></g></svg></div><section class="panel" style="left:1008px;top:661px;width:488px;height:179px"><h2><span class="t" style="left:8.51px;top:12px;font-size:18.2px;letter-spacing:0.48px;-webkit-text-stroke:0.55px currentColor;">Estado Lineas de Produccion (%)</span></h2><span class="t" style="left:8.6px;top:55px;font-size:21.9px;letter-spacing:-0.19px;-webkit-text-stroke:0.15px currentColor;">Linea A</span><div style="position:absolute;left:9.7px;top:81.1px;width:372.7px;height:36.8px;border-radius:3.5px;background:#22252b"><div style="width:344.8px;height:36.8px;border-radius:3.5px;background:linear-gradient(to right,#f2495c,#f2495c 96px,#fade2a 233.5px,#73bf69 345px)"></div></div><span class="t" style="left:398.43px;top:87px;font-size:22.8px;letter-spacing:-0.17px;color:#73bf69;">92.4%</span><span class="t" style="left:8.6px;top:135px;font-size:21.9px;letter-spacing:-0.09px;-webkit-text-stroke:0.15px currentColor;">Linea B</span></section></body>
</html>
